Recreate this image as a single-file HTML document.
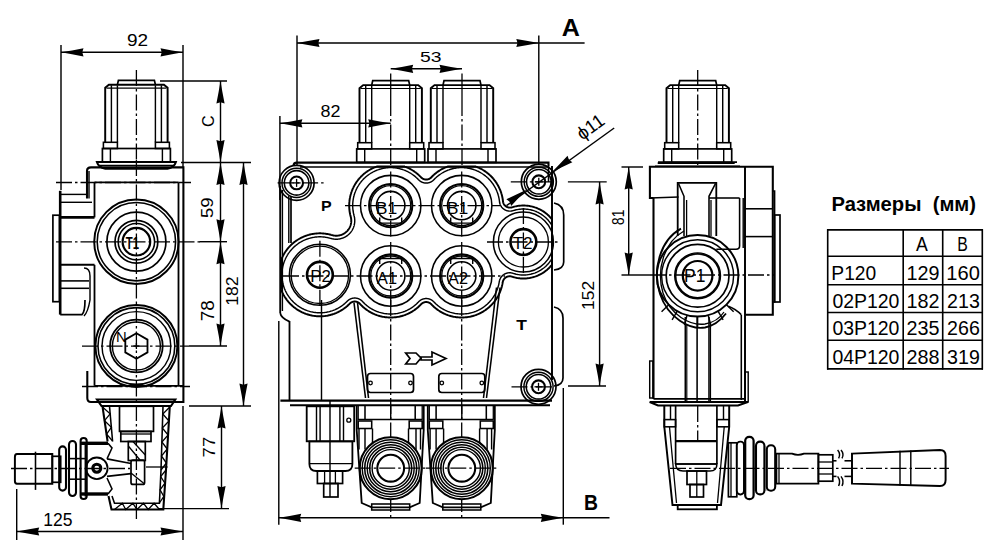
<!DOCTYPE html>
<html><head><meta charset="utf-8"><style>
html,body{margin:0;padding:0;background:#fff;width:1000px;height:557px;overflow:hidden}
svg{display:block}
text{font-family:"Liberation Sans",sans-serif;fill:#000;stroke:none}
</style></head><body>
<svg width="1000" height="557" viewBox="0 0 1000 557" stroke="#000" fill="none" stroke-linecap="butt">
<rect x="0" y="0" width="1000" height="557" fill="#fff" stroke="none"/>
<path d="M117.4,84.7 L118.4,80.3 L154.4,80.3 L155.4,84.7" stroke-width="1.69" fill="none" />
<path d="M105.2,142.3 L105.2,87.8 L108.9,84.7 L163.9,84.7 L167.6,87.8 L167.6,142.3" stroke-width="1.95" fill="none" />
<line x1="111.4" y1="85.3" x2="111.4" y2="142.3" stroke-width="1.43" />
<line x1="117.4" y1="85.3" x2="117.4" y2="142.3" stroke-width="1.43" />
<line x1="155.4" y1="85.3" x2="155.4" y2="142.3" stroke-width="1.43" />
<line x1="161.4" y1="85.3" x2="161.4" y2="142.3" stroke-width="1.43" />
<line x1="106.4" y1="88.1" x2="166.4" y2="88.1" stroke-width="1.17" />
<rect x="103.4" y="142.3" width="14" height="6.2" rx="0" stroke-width="1.56" fill="none" />
<rect x="155.4" y="142.3" width="14" height="6.2" rx="0" stroke-width="1.56" fill="none" />
<rect x="102.4" y="148.5" width="68" height="13.5" rx="0" stroke-width="1.69" fill="none" />
<line x1="110.4" y1="148.5" x2="110.4" y2="162" stroke-width="1.43" />
<line x1="162.4" y1="148.5" x2="162.4" y2="162" stroke-width="1.43" />
<path d="M96.9,162 L175.9,162 Q174.4,167.3 167.4,168.8 L105.4,168.8 Q98.4,167.3 96.9,162 Z" stroke-width="2.08" fill="none" />
<line x1="99.4" y1="165.3" x2="173.4" y2="165.3" stroke-width="1.3" />
<line x1="136.4" y1="70" x2="136.4" y2="160" stroke-width="1.3" stroke-dasharray="16 3 2.5 3"/>
<path d="M87,198.5 L87,171 Q87,167.4 91,167.4 L183.4,167.4 L183.4,402 L91,402 Q87.3,402 87.3,398 L87.3,371" stroke-width="2.08" fill="none" />
<line x1="89" y1="171" x2="89" y2="198.5" stroke-width="1.43" />
<line x1="94.5" y1="182.4" x2="94.5" y2="217.4" stroke-width="1.82" />
<line x1="94.5" y1="264.8" x2="94.5" y2="385.8" stroke-width="1.82" />
<line x1="178.5" y1="182.4" x2="178.5" y2="385.8" stroke-width="1.82" />
<line x1="94.5" y1="182.4" x2="178.5" y2="182.4" stroke-width="1.82" />
<line x1="94.5" y1="385.8" x2="183.4" y2="385.8" stroke-width="1.69" />
<line x1="60.2" y1="190.8" x2="60.2" y2="314.6" stroke-width="2.6" />
<path d="M60.2,314.6 L82,314.6 Q85,312 85,300" stroke-width="1.69" fill="none" />
<rect x="52.9" y="215.2" width="6.5" height="86.5" rx="0" stroke-width="1.69" fill="none" />
<line x1="60.2" y1="194.4" x2="87" y2="194.4" stroke-width="1.43" />
<line x1="60.2" y1="202.3" x2="92" y2="202.3" stroke-width="1.43" />
<line x1="60.2" y1="217.4" x2="94.5" y2="217.4" stroke-width="2.86" />
<line x1="60.2" y1="264.8" x2="94.5" y2="264.8" stroke-width="2.08" />
<line x1="60.2" y1="280.9" x2="89" y2="280.9" stroke-width="1.56" />
<line x1="60.2" y1="288.3" x2="89" y2="288.3" stroke-width="1.56" />
<path d="M84,268 Q90,268 90,276 L90,300 Q88,312 84,316" stroke-width="1.43" fill="none" />
<circle cx="136.4" cy="241.7" r="42.2" stroke-width="1.95" fill="none" />
<circle cx="136.4" cy="241.7" r="39.2" stroke-width="1.56" fill="none" />
<circle cx="136.4" cy="241.7" r="29.5" stroke-width="1.69" fill="none" />
<circle cx="136.4" cy="241.7" r="21.4" stroke-width="1.69" fill="none" />
<circle cx="136.4" cy="241.7" r="18.2" stroke-width="1.56" fill="none" />
<circle cx="136.4" cy="241.7" r="13.8" stroke-width="2.21" fill="none" />
<text x="132.38" y="243.23" font-size="16.98" font-weight="bold" text-anchor="middle" dominant-baseline="central" textLength="13.22" lengthAdjust="spacingAndGlyphs">T1</text>
<circle cx="136.4" cy="346" r="41" stroke-width="1.95" fill="none" />
<circle cx="136.4" cy="346" r="38.4" stroke-width="1.56" fill="none" />
<circle cx="136.4" cy="346" r="34.4" stroke-width="1.43" fill="none" />
<circle cx="136.4" cy="346" r="26.3" stroke-width="1.82" fill="none" />
<circle cx="136.4" cy="346" r="24" stroke-width="1.43" fill="none" />
<path d="M147.49,352.4 L136.4,358.8 L125.31,352.4 L125.31,339.6 L136.4,333.2 L147.49,339.6 Z" stroke-width="1.82" fill="none" />
<line x1="133.4" y1="346" x2="139.4" y2="346" stroke-width="1.3" />
<line x1="136.4" y1="343" x2="136.4" y2="349" stroke-width="1.3" />
<text x="121.36" y="336.33" font-size="15.13" font-weight="normal" text-anchor="middle" dominant-baseline="central" textLength="10.68" lengthAdjust="spacingAndGlyphs">N</text>
<line x1="56" y1="182.5" x2="191" y2="182.5" stroke-width="1.3" stroke-dasharray="16 3 2.5 3"/>
<line x1="56" y1="241.8" x2="200" y2="241.8" stroke-width="1.3" stroke-dasharray="16 3 2.5 3"/>
<line x1="82" y1="346.2" x2="189" y2="346.2" stroke-width="1.3" stroke-dasharray="16 3 2.5 3"/>
<line x1="82" y1="386.5" x2="190" y2="386.5" stroke-width="1.3" stroke-dasharray="16 3 2.5 3"/>
<line x1="136.4" y1="160" x2="136.4" y2="522" stroke-width="1.3" stroke-dasharray="16 3 2.5 3"/>
<line x1="189" y1="346" x2="227" y2="346" stroke-width="1.43" />
<line x1="199.5" y1="241.7" x2="227" y2="241.7" stroke-width="1.43" />
<path d="M97,399.5 L175.3,399.5 L171,406 L101.5,406 Z" stroke-width="2.08" fill="none" />
<path d="M102.5,406.3 L107.6,441.5" stroke-width="2.08" fill="none" />
<path d="M109.5,406.3 L112.6,441.5" stroke-width="1.56" fill="none" />
<path d="M108.5,496 L111.5,509.5 L163.3,509.5 L166,470 L169.8,406.3" stroke-width="2.08" fill="none" />
<path d="M112,496 L114.5,503.3 L159.4,503.3 L161,470 L163,406.3" stroke-width="1.56" fill="none" />
<path d="M102.5,407 L110.12,413.8 L104.54,420.6 L111.36,427.4 L106.58,434.2 L112.6,441" stroke-width="1.3" fill="none" />
<path d="M169.8,407 L162.78,414 L168.96,421 L162.33,428 L168.11,435 L161.89,442 L167.27,449 L161.44,456 L166.42,463 L161,470" stroke-width="1.3" fill="none" />
<path d="M166,470 L160.68,476.6 L164.92,483.2 L160.04,489.8 L163.84,496.4 L159.4,503" stroke-width="1.3" fill="none" />
<path d="M114.5,509.5 L122.3,503.3 L125.72,509.5 L132.9,503.3 L136.95,509.5 L143.5,503.3 L148.18,509.5 L154.1,503.3 L159.4,509.5" stroke-width="1.3" fill="none" />
<rect x="119.5" y="406.3" width="34" height="25.1" rx="0" stroke-width="1.69" fill="none" />
<rect x="120.8" y="431.4" width="30.2" height="10.1" rx="0" stroke-width="1.69" fill="none" />
<line x1="120.8" y1="434" x2="151" y2="434" stroke-width="1.3" />
<rect x="128.3" y="441.5" width="17" height="19" rx="0" stroke-width="1.69" fill="none" />
<line x1="128.3" y1="446" x2="140" y2="460" stroke-width="1.3" />
<line x1="133" y1="441.5" x2="145.3" y2="455" stroke-width="1.3" />
<path d="M133,460 L143,460 Q144.6,460 144.6,462 L144.6,482.4 Q144.6,484.4 142.6,484.4 L133,484.4 Q131,484.4 131,482.4 L131,462 Q131,460 133,460 Z" stroke-width="1.69" fill="none" />
<line x1="131" y1="473" x2="144.6" y2="484" stroke-width="1.3" />
<circle cx="96.8" cy="468.3" r="10.8" stroke-width="1.82" fill="none" />
<circle cx="96.8" cy="468.3" r="4" stroke-width="3.12" fill="none" />
<line x1="85.4" y1="442.7" x2="85.4" y2="496.5" stroke-width="1.69" />
<line x1="80" y1="443.3" x2="108" y2="443.3" stroke-width="3.38" />
<line x1="80" y1="494" x2="108" y2="494" stroke-width="3.38" />
<path d="M108,443.3 L112,448 L107,458.8" stroke-width="1.56" fill="none" />
<path d="M108,494 L112,489 L107,478" stroke-width="1.56" fill="none" />
<path d="M107,458.8 L131,463.5" stroke-width="1.69" fill="none" />
<path d="M107,476.3 L131,473.6" stroke-width="1.69" fill="none" />
<line x1="146" y1="467" x2="167.6" y2="467" stroke-width="1.3" />
<rect x="59.2" y="446.4" width="6.8" height="44.2" rx="3.4" stroke-width="2.08" fill="none" />
<rect x="69" y="441" width="7" height="55" rx="3.5" stroke-width="2.08" fill="none" />
<rect x="80.6" y="438" width="6.1" height="61" rx="3" stroke-width="2.08" fill="none" />
<rect x="69" y="458.6" width="17" height="20.6" rx="0" stroke-width="1.56" fill="none" />
<rect x="52.3" y="456.3" width="8.4" height="26" rx="0" stroke-width="1.69" fill="none" />
<path d="M17,454 L52.3,454 L52.3,483.8 L17,483.8 Q14.9,483.8 14.9,481 L14.9,457 Q14.9,454 17,454 Z" stroke-width="1.95" fill="none" />
<line x1="35.5" y1="451.7" x2="35.5" y2="489.9" stroke-width="1.56" />
<line x1="11" y1="468.5" x2="130" y2="468.5" stroke-width="1.3" stroke-dasharray="16 3 2.5 3"/>
<line x1="61" y1="45" x2="61" y2="190" stroke-width="1.43" />
<line x1="183" y1="45" x2="183" y2="167.5" stroke-width="1.43" />
<line x1="61" y1="52.3" x2="183" y2="52.3" stroke-width="1.43" />
<path d="M61,52.3 L72,50.4 L83.5,48.2 L82.5,51.5 L82.5,53.1 L83.5,56.4 L72,54.2 Z" fill="#000" stroke="none"/>
<path d="M183,52.3 L172,54.2 L160.5,56.4 L161.5,53.1 L161.5,51.5 L160.5,48.2 L172,50.4 Z" fill="#000" stroke="none"/>
<text x="137.5" y="40.14" font-size="16.76" font-weight="normal" text-anchor="middle" dominant-baseline="central" textLength="21.12" lengthAdjust="spacingAndGlyphs">92</text>
<line x1="160" y1="81" x2="227" y2="81" stroke-width="1.43" />
<line x1="181" y1="162.5" x2="251" y2="162.5" stroke-width="1.43" />
<line x1="220.5" y1="81" x2="220.5" y2="162.5" stroke-width="1.43" />
<path d="M220.5,81 L222.4,92 L224.6,103.5 L221.3,102.5 L219.7,102.5 L216.4,103.5 L218.6,92 Z" fill="#000" stroke="none"/>
<path d="M220.5,162.5 L218.6,151.5 L216.4,140 L219.7,141 L221.3,141 L224.6,140 L222.4,151.5 Z" fill="#000" stroke="none"/>
<text x="208.42" y="121.1" font-size="16.76" font-weight="normal" text-anchor="middle" dominant-baseline="central" transform="rotate(-90 208.42 121.1)" textLength="11.73" lengthAdjust="spacingAndGlyphs">C</text>
<line x1="220.5" y1="162.5" x2="220.5" y2="241.7" stroke-width="1.43" />
<path d="M220.5,162.5 L222.4,173.5 L224.6,185 L221.3,184 L219.7,184 L216.4,185 L218.6,173.5 Z" fill="#000" stroke="none"/>
<path d="M220.5,241.7 L218.6,230.7 L216.4,219.2 L219.7,220.2 L221.3,220.2 L224.6,219.2 L222.4,230.7 Z" fill="#000" stroke="none"/>
<text x="207.14" y="207.81" font-size="16.76" font-weight="normal" text-anchor="middle" dominant-baseline="central" transform="rotate(-90 207.14 207.81)" textLength="20.59" lengthAdjust="spacingAndGlyphs">59</text>
<line x1="220.5" y1="241.7" x2="220.5" y2="346" stroke-width="1.43" />
<path d="M220.5,241.7 L222.4,252.7 L224.6,264.2 L221.3,263.2 L219.7,263.2 L216.4,264.2 L218.6,252.7 Z" fill="#000" stroke="none"/>
<path d="M220.5,346 L218.6,335 L216.4,323.5 L219.7,324.5 L221.3,324.5 L224.6,323.5 L222.4,335 Z" fill="#000" stroke="none"/>
<text x="208.07" y="310.69" font-size="17.91" font-weight="normal" text-anchor="middle" dominant-baseline="central" transform="rotate(-90 208.07 310.69)" textLength="20.97" lengthAdjust="spacingAndGlyphs">78</text>
<line x1="243.5" y1="162.5" x2="243.5" y2="406" stroke-width="1.43" />
<path d="M243.5,162.5 L245.4,173.5 L247.6,185 L244.3,184 L242.7,184 L239.4,185 L241.6,173.5 Z" fill="#000" stroke="none"/>
<path d="M243.5,406 L241.6,395 L239.4,383.5 L242.7,384.5 L244.3,384.5 L247.6,383.5 L245.4,395 Z" fill="#000" stroke="none"/>
<text x="232.54" y="291.09" font-size="16.97" font-weight="normal" text-anchor="middle" dominant-baseline="central" transform="rotate(-90 232.54 291.09)" textLength="29.31" lengthAdjust="spacingAndGlyphs">182</text>
<line x1="189" y1="406" x2="251" y2="406" stroke-width="1.43" />
<line x1="159" y1="508.6" x2="229" y2="508.6" stroke-width="1.43" />
<line x1="221.5" y1="406" x2="221.5" y2="508.6" stroke-width="1.43" />
<path d="M221.5,406 L223.4,417 L225.6,428.5 L222.3,427.5 L220.7,427.5 L217.4,428.5 L219.6,417 Z" fill="#000" stroke="none"/>
<path d="M221.5,508.6 L219.6,497.6 L217.4,486.1 L220.7,487.1 L222.3,487.1 L225.6,486.1 L223.4,497.6 Z" fill="#000" stroke="none"/>
<text x="209.09" y="447.07" font-size="17.35" font-weight="normal" text-anchor="middle" dominant-baseline="central" transform="rotate(-90 209.09 447.07)" textLength="20.59" lengthAdjust="spacingAndGlyphs">77</text>
<line x1="16.7" y1="489" x2="16.7" y2="540" stroke-width="1.43" />
<line x1="183" y1="406" x2="183" y2="540" stroke-width="1.43" />
<line x1="16.7" y1="531.5" x2="183" y2="531.5" stroke-width="1.43" />
<path d="M16.7,531.5 L27.7,529.6 L39.2,527.4 L38.2,530.7 L38.2,532.3 L39.2,535.6 L27.7,533.4 Z" fill="#000" stroke="none"/>
<path d="M183,531.5 L172,533.4 L160.5,535.6 L161.5,532.3 L161.5,530.7 L160.5,527.4 L172,529.6 Z" fill="#000" stroke="none"/>
<text x="57.79" y="519.83" font-size="17.55" font-weight="normal" text-anchor="middle" dominant-baseline="central" textLength="29.25" lengthAdjust="spacingAndGlyphs">125</text>
<path d="M371.7,85.1 L372.7,80.7 L408.7,80.7 L409.7,85.1" stroke-width="1.69" fill="none" />
<path d="M359.5,142.7 L359.5,88.2 L363.2,85.1 L418.2,85.1 L421.9,88.2 L421.9,142.7" stroke-width="1.95" fill="none" />
<line x1="365.7" y1="85.7" x2="365.7" y2="142.7" stroke-width="1.43" />
<line x1="371.7" y1="85.7" x2="371.7" y2="142.7" stroke-width="1.43" />
<line x1="409.7" y1="85.7" x2="409.7" y2="142.7" stroke-width="1.43" />
<line x1="415.7" y1="85.7" x2="415.7" y2="142.7" stroke-width="1.43" />
<line x1="360.7" y1="88.5" x2="420.7" y2="88.5" stroke-width="1.17" />
<rect x="357.7" y="142.7" width="14" height="6.2" rx="0" stroke-width="1.56" fill="none" />
<rect x="409.7" y="142.7" width="14" height="6.2" rx="0" stroke-width="1.56" fill="none" />
<rect x="356.7" y="148.9" width="68" height="13.5" rx="0" stroke-width="1.69" fill="none" />
<line x1="364.7" y1="148.9" x2="364.7" y2="162.4" stroke-width="1.43" />
<line x1="416.7" y1="148.9" x2="416.7" y2="162.4" stroke-width="1.43" />
<path d="M443,85.1 L444,80.7 L480,80.7 L481,85.1" stroke-width="1.69" fill="none" />
<path d="M430.8,142.7 L430.8,88.2 L434.5,85.1 L489.5,85.1 L493.2,88.2 L493.2,142.7" stroke-width="1.95" fill="none" />
<line x1="437" y1="85.7" x2="437" y2="142.7" stroke-width="1.43" />
<line x1="443" y1="85.7" x2="443" y2="142.7" stroke-width="1.43" />
<line x1="481" y1="85.7" x2="481" y2="142.7" stroke-width="1.43" />
<line x1="487" y1="85.7" x2="487" y2="142.7" stroke-width="1.43" />
<line x1="432" y1="88.5" x2="492" y2="88.5" stroke-width="1.17" />
<rect x="429" y="142.7" width="14" height="6.2" rx="0" stroke-width="1.56" fill="none" />
<rect x="481" y="142.7" width="14" height="6.2" rx="0" stroke-width="1.56" fill="none" />
<rect x="428" y="148.9" width="68" height="13.5" rx="0" stroke-width="1.69" fill="none" />
<line x1="436" y1="148.9" x2="436" y2="162.4" stroke-width="1.43" />
<line x1="488" y1="148.9" x2="488" y2="162.4" stroke-width="1.43" />
<line x1="390.7" y1="73.5" x2="390.7" y2="100" stroke-width="1.3" />
<line x1="390.7" y1="100" x2="390.7" y2="165" stroke-width="1.3" stroke-dasharray="16 3 2.5 3"/>
<line x1="462" y1="73.5" x2="462" y2="100" stroke-width="1.3" />
<line x1="462" y1="100" x2="462" y2="165" stroke-width="1.3" stroke-dasharray="16 3 2.5 3"/>
<path d="M293.5,166 Q293.5,162.6 297,162.6 L548.5,162.6 L548.5,166" stroke-width="2.08" fill="none" />
<line x1="300" y1="167" x2="548.5" y2="167" stroke-width="1.56" />
<line x1="280.2" y1="186" x2="280.2" y2="313" stroke-width="1.82" />
<line x1="282.4" y1="190" x2="282.4" y2="311" stroke-width="1.43" />
<path d="M280.2,313 Q281,318 289.5,321.6" stroke-width="1.69" fill="none" />
<line x1="288.8" y1="196" x2="288.8" y2="243" stroke-width="1.43" />
<line x1="291" y1="196" x2="291" y2="243" stroke-width="1.69" />
<line x1="289.5" y1="321" x2="289.5" y2="400.6" stroke-width="1.82" />
<line x1="552" y1="166" x2="552" y2="380" stroke-width="1.95" />
<line x1="548.5" y1="166" x2="548.5" y2="182" stroke-width="1.56" />
<path d="M554,203 Q563.7,205 563.7,215 L563.7,262 Q563.7,269 554,270" stroke-width="1.69" fill="none" />
<path d="M554,307 Q563,309 563,318 L563,378 Q563,385 554,386" stroke-width="1.69" fill="none" />
<line x1="280.4" y1="400.6" x2="552" y2="400.6" stroke-width="2.08" />
<line x1="290" y1="405.3" x2="550" y2="405.3" stroke-width="2.08" />
<circle cx="296.6" cy="182.9" r="17.5" stroke-width="1.69" fill="none" />
<circle cx="296.6" cy="182.9" r="14.6" stroke-width="1.43" fill="none" />
<circle cx="296.6" cy="182.9" r="12.25" stroke-width="1.56" fill="none" />
<circle cx="296.6" cy="182.9" r="6.4" stroke-width="2.08" fill="none" />
<line x1="292.6" y1="182.9" x2="300.6" y2="182.9" stroke-width="1.3" />
<line x1="296.6" y1="178.9" x2="296.6" y2="186.9" stroke-width="1.3" />
<line x1="277.6" y1="182.9" x2="326.6" y2="182.9" stroke-width="1.3" stroke-dasharray="16 3 2.5 3"/>
<circle cx="538.8" cy="181.8" r="17.5" stroke-width="1.69" fill="none" />
<circle cx="538.8" cy="181.8" r="14.6" stroke-width="1.43" fill="none" />
<circle cx="538.8" cy="181.8" r="12.25" stroke-width="1.56" fill="none" />
<circle cx="538.8" cy="181.8" r="6.4" stroke-width="2.08" fill="none" />
<line x1="534.8" y1="181.8" x2="542.8" y2="181.8" stroke-width="1.3" />
<line x1="538.8" y1="177.8" x2="538.8" y2="185.8" stroke-width="1.3" />
<line x1="510.8" y1="181.8" x2="553.8" y2="181.8" stroke-width="1.3" stroke-dasharray="16 3 2.5 3"/>
<circle cx="538.5" cy="386.8" r="17.5" stroke-width="1.69" fill="none" />
<circle cx="538.5" cy="386.8" r="14.6" stroke-width="1.43" fill="none" />
<circle cx="538.5" cy="386.8" r="12.25" stroke-width="1.56" fill="none" />
<circle cx="538.5" cy="386.8" r="6.4" stroke-width="2.08" fill="none" />
<line x1="534.5" y1="386.8" x2="542.5" y2="386.8" stroke-width="1.3" />
<line x1="538.5" y1="382.8" x2="538.5" y2="390.8" stroke-width="1.3" />
<line x1="511.5" y1="386.8" x2="553.5" y2="386.8" stroke-width="1.3" stroke-dasharray="16 3 2.5 3"/>
<path d="M350.9,217.44 L350.97,217.8 L351.04,218.16 L351.1,218.52 L351.15,218.89 L351.19,219.25 L351.22,219.62 L351.24,219.99 L351.26,220.35 L351.26,220.72 L351.26,221.09 L351.24,221.46 L351.22,221.83 L351.19,222.19 L351.15,222.56 L351.1,222.92 L351.04,223.29 L350.97,223.65 L350.9,224.01 L350.81,224.37 L350.72,224.72 L350.62,225.08 L350.51,225.43 L350.39,225.78 L350.26,226.12 L350.12,226.46 L349.98,226.8 L349.82,227.14 L349.66,227.47 L349.49,227.79 L349.31,228.12 L349.13,228.43 L348.94,228.75 L348.73,229.06 L348.53,229.36 L348.31,229.66 L348.09,229.95 L347.86,230.24 L347.62,230.52 L347.38,230.8 L347.13,231.07 L346.87,231.33 L346.61,231.59 L346.34,231.84 L346.06,232.08 L345.78,232.32 L345.49,232.55 L345.2,232.77 L344.9,232.99 L344.6,233.19 L344.29,233.4 L343.97,233.59 L343.66,233.77 L343.33,233.95 L343.01,234.12 L342.68,234.28 L342.34,234.44 L342,234.58 L341.66,234.72 L341.32,234.85 L340.97,234.97 L340.62,235.08 L340.26,235.18 L339.91,235.27 L339.55,235.36 L339.19,235.43 L338.83,235.5 L338.46,235.56 L338.1,235.61 L337.73,235.65 L337.37,235.68 L337,235.7 L336.63,235.72 L336.26,235.72 L335.89,235.72 L335.53,235.7 L335.16,235.68 L334.79,235.65 L334.43,235.61 L334.06,235.56 L333.7,235.5 L333.34,235.43 L332.98,235.36 L332.62,235.27 L332.26,235.18 L331.96,235.09 L331.91,235.08 L331.86,235.06 L331.06,234.83 L331.01,234.82 L330.93,234.79 L330.88,234.78 L330.09,234.57 L330.07,234.57 L330.03,234.55 L329.94,234.53 L329.89,234.52 L329.49,234.43 L329.08,234.33 L329.03,234.32 L328.95,234.3 L328.9,234.29 L328.33,234.17 L328.09,234.12 L328.04,234.11 L327.95,234.09 L327.91,234.08 L327.6,234.02 L327.09,233.93 L327.04,233.92 L326.95,233.9 L326.9,233.9 L326.08,233.76 L326.03,233.76 L325.95,233.74 L325.9,233.74 L325.52,233.69 L325.07,233.62 L325.02,233.62 L324.94,233.61 L324.89,233.6 L324.06,233.51 L324.01,233.5 L323.92,233.5 L323.88,233.49 L323.53,233.46 L323.04,233.42 L323,233.42 L322.91,233.41 L322.86,233.41 L322.03,233.36 L321.98,233.35 L321.89,233.35 L321.84,233.35 L321.01,233.32 L320.96,233.31 L320.88,233.31 L320.83,233.31 L319.99,233.3 L319.94,233.3 L319.86,233.3 L319.81,233.3 L318.97,233.31 L318.92,233.31 L318.84,233.31 L318.79,233.32 L317.96,233.35 L317.91,233.35 L317.82,233.35 L317.77,233.36 L316.94,233.41 L316.89,233.41 L316.8,233.42 L316.76,233.42 L316.27,233.46 L315.92,233.49 L315.88,233.5 L315.79,233.5 L315.74,233.51 L314.91,233.6 L314.86,233.61 L314.78,233.62 L314.73,233.62 L314.28,233.69 L313.9,233.74 L313.85,233.74 L313.77,233.76 L313.72,233.76 L312.9,233.9 L312.85,233.9 L312.76,233.92 L312.71,233.93 L312.2,234.02 L311.89,234.08 L311.85,234.09 L311.76,234.11 L311.71,234.12 L311.47,234.17 L310.9,234.29 L310.85,234.3 L310.77,234.32 L310.72,234.33 L310.31,234.43 L309.91,234.52 L309.86,234.53 L309.77,234.55 L309.73,234.57 L309.71,234.57 L308.92,234.78 L308.87,234.79 L308.79,234.82 L308.74,234.83 L307.94,235.06 L307.89,235.08 L307.81,235.1 L307.77,235.11 L307.28,235.27 L306.97,235.37 L306.92,235.38 L306.84,235.41 L306.8,235.42 L306.01,235.7 L305.96,235.71 L305.88,235.74 L305.83,235.76 L305.05,236.05 L305,236.07 L304.92,236.1 L304.88,236.11 L304.49,236.27 L304.1,236.42 L304.06,236.44 L303.98,236.48 L303.93,236.5 L303.17,236.82 L303.12,236.84 L303.04,236.88 L303,236.9 L302.24,237.25 L302.2,237.27 L302.12,237.3 L302.07,237.32 L301.59,237.56 L301.32,237.69 L301.28,237.71 L301.2,237.75 L301.16,237.77 L300.42,238.16 L300.38,238.18 L300.3,238.22 L300.26,238.24 L300.11,238.33 L299.53,238.65 L299.48,238.67 L299.41,238.71 L299.37,238.74 L298.64,239.16 L298.6,239.18 L298.53,239.23 L298.49,239.25 L298.47,239.26 L297.78,239.69 L297.73,239.72 L297.66,239.76 L297.62,239.79 L296.92,240.24 L296.88,240.27 L296.81,240.32 L296.77,240.35 L296.35,240.63 L296.08,240.82 L296.04,240.85 L295.97,240.9 L295.93,240.92 L295.57,241.19 L295.25,241.41 L295.21,241.44 L295.14,241.49 L295.11,241.52 L294.44,242.03 L294.4,242.06 L294.33,242.11 L294.3,242.14 L293.64,242.66 L293.61,242.69 L293.54,242.75 L293.5,242.78 L293.03,243.17 L292.86,243.32 L292.83,243.35 L292.76,243.4 L292.72,243.44 L292.64,243.51 L292.1,243.99 L292.06,244.02 L292,244.08 L291.96,244.11 L291.65,244.4 L291.35,244.68 L291.32,244.71 L291.25,244.77 L291.22,244.81 L290.62,245.39 L290.59,245.43 L290.53,245.49 L290.49,245.52 L289.91,246.12 L289.87,246.15 L289.81,246.22 L289.78,246.25 L289.46,246.6 L289.21,246.86 L289.18,246.9 L289.12,246.96 L289.09,247 L288.54,247.62 L288.5,247.66 L288.45,247.73 L288.42,247.76 L287.88,248.4 L287.85,248.44 L287.79,248.51 L287.76,248.54 L287.24,249.2 L287.21,249.23 L287.16,249.3 L287.13,249.34 L286.62,250.01 L286.59,250.04 L286.54,250.11 L286.51,250.15 L286.4,250.31 L286.02,250.83 L286,250.87 L285.95,250.94 L285.92,250.98 L285.45,251.67 L285.42,251.71 L285.37,251.78 L285.34,251.82 L284.89,252.52 L284.86,252.56 L284.82,252.63 L284.79,252.68 L284.42,253.27 L284.35,253.39 L284.33,253.43 L284.28,253.5 L284.26,253.54 L283.84,254.27 L283.81,254.31 L283.77,254.38 L283.75,254.43 L283.34,255.16 L283.32,255.2 L283.28,255.28 L283.26,255.32 L282.87,256.06 L282.85,256.1 L282.81,256.18 L282.79,256.22 L282.53,256.76 L282.42,256.97 L282.4,257.02 L282.37,257.1 L282.35,257.14 L282.09,257.69 L282,257.9 L281.98,257.94 L281.94,258.02 L281.92,258.07 L281.6,258.83 L281.58,258.88 L281.54,258.96 L281.52,259 L281.3,259.57 L281.21,259.78 L281.2,259.82 L281.17,259.9 L281.15,259.95 L281,260.34 L281,260.35 L281,289.25 L281.15,289.65 L281.17,289.7 L281.2,289.78 L281.21,289.82 L281.37,290.21 L281.52,290.6 L281.54,290.64 L281.58,290.72 L281.6,290.77 L281.64,290.88 L281.92,291.53 L281.94,291.58 L281.98,291.66 L282,291.7 L282.35,292.46 L282.37,292.5 L282.4,292.58 L282.42,292.63 L282.79,293.38 L282.81,293.42 L282.85,293.5 L282.87,293.54 L283.19,294.15 L283.26,294.28 L283.28,294.32 L283.32,294.4 L283.34,294.44 L283.45,294.64 L283.75,295.17 L283.77,295.22 L283.81,295.29 L283.84,295.33 L284.26,296.06 L284.28,296.1 L284.33,296.17 L284.35,296.21 L284.79,296.92 L284.82,296.97 L284.86,297.04 L284.89,297.08 L285.34,297.78 L285.37,297.82 L285.42,297.89 L285.45,297.93 L285.92,298.62 L285.95,298.66 L286,298.73 L286.02,298.77 L286.14,298.93 L286.51,299.45 L286.54,299.49 L286.59,299.56 L286.62,299.59 L287.13,300.26 L287.16,300.3 L287.21,300.37 L287.24,300.4 L287.76,301.06 L287.79,301.09 L287.85,301.16 L287.88,301.2 L288.42,301.84 L288.45,301.87 L288.5,301.94 L288.54,301.98 L289.09,302.6 L289.12,302.64 L289.18,302.7 L289.21,302.74 L289.78,303.35 L289.81,303.38 L289.87,303.45 L289.91,303.48 L290.49,304.08 L290.53,304.11 L290.59,304.17 L290.62,304.21 L291.22,304.79 L291.25,304.83 L291.32,304.89 L291.35,304.92 L291.47,305.03 L291.96,305.49 L292,305.52 L292.06,305.58 L292.1,305.61 L292.22,305.72 L292.72,306.16 L292.76,306.2 L292.83,306.25 L292.86,306.28 L293.5,306.82 L293.54,306.85 L293.61,306.91 L293.64,306.94 L294.3,307.46 L294.33,307.49 L294.4,307.54 L294.44,307.57 L295.11,308.08 L295.14,308.11 L295.21,308.16 L295.25,308.19 L295.71,308.52 L295.93,308.68 L295.97,308.7 L296.04,308.75 L296.08,308.78 L296.77,309.25 L296.81,309.28 L296.88,309.33 L296.92,309.36 L297.62,309.81 L297.66,309.84 L297.73,309.88 L297.78,309.91 L297.81,309.93 L298.49,310.35 L298.53,310.37 L298.6,310.42 L298.64,310.44 L299.37,310.86 L299.41,310.89 L299.48,310.93 L299.53,310.95 L299.97,311.2 L300.26,311.36 L300.3,311.38 L300.38,311.42 L300.42,311.44 L301.16,311.83 L301.2,311.85 L301.28,311.89 L301.32,311.91 L302.07,312.28 L302.12,312.3 L302.2,312.33 L302.24,312.35 L303,312.7 L303.04,312.72 L303.12,312.76 L303.17,312.78 L303.6,312.96 L303.93,313.1 L303.98,313.12 L304.06,313.16 L304.1,313.18 L304.88,313.49 L304.92,313.5 L305,313.53 L305.05,313.55 L305.53,313.73 L305.83,313.84 L305.88,313.86 L305.96,313.89 L306.01,313.9 L306.62,314.11 L306.8,314.18 L306.84,314.19 L306.92,314.22 L306.97,314.23 L307.03,314.25 L307.77,314.49 L307.81,314.5 L307.89,314.52 L307.94,314.54 L308.74,314.77 L308.79,314.78 L308.87,314.81 L308.92,314.82 L309.47,314.97 L309.73,315.03 L309.77,315.05 L309.86,315.07 L309.91,315.08 L310.72,315.27 L310.77,315.28 L310.85,315.3 L310.9,315.31 L311.49,315.44 L311.71,315.48 L311.76,315.49 L311.85,315.51 L311.89,315.52 L312.34,315.6 L312.71,315.67 L312.76,315.68 L312.85,315.7 L312.9,315.7 L313.72,315.84 L313.77,315.84 L313.85,315.86 L313.9,315.86 L314.14,315.9 L314.73,315.98 L314.78,315.98 L314.86,315.99 L314.91,316 L315.41,316.05 L315.74,316.09 L315.79,316.1 L315.88,316.1 L315.92,316.11 L316.76,316.18 L316.8,316.18 L316.89,316.19 L316.94,316.19 L317.77,316.24 L317.82,316.25 L317.91,316.25 L317.96,316.25 L318.79,316.28 L318.84,316.29 L318.92,316.29 L318.97,316.29 L319.81,316.3 L319.86,316.3 L319.94,316.3 L319.99,316.3 L320.83,316.29 L320.88,316.29 L320.96,316.29 L321.01,316.28 L321.84,316.25 L321.89,316.25 L321.98,316.25 L322.03,316.24 L322.86,316.19 L322.91,316.19 L323,316.18 L323.04,316.18 L323.88,316.11 L323.92,316.1 L324.01,316.1 L324.06,316.09 L324.89,316 L324.94,315.99 L325.02,315.98 L325.07,315.98 L325.9,315.86 L325.95,315.86 L326.03,315.84 L326.08,315.84 L326.9,315.7 L326.95,315.7 L327.04,315.68 L327.09,315.67 L327.09,315.67 L327.91,315.52 L327.95,315.51 L328.04,315.49 L328.09,315.48 L328.9,315.31 L328.95,315.3 L329.03,315.28 L329.08,315.27 L329.89,315.08 L329.94,315.07 L330.03,315.05 L330.07,315.03 L330.3,314.97 L330.88,314.82 L330.93,314.81 L331.01,314.78 L331.06,314.77 L331.39,314.67 L331.86,314.54 L331.91,314.52 L331.99,314.5 L332.03,314.49 L332.77,314.25 L332.83,314.23 L332.88,314.22 L332.96,314.19 L333,314.18 L333.18,314.11 L333.79,313.9 L333.84,313.89 L333.92,313.86 L333.97,313.84 L334.27,313.73 L334.75,313.55 L334.8,313.53 L334.88,313.5 L334.92,313.49 L335.7,313.18 L335.74,313.16 L335.82,313.12 L335.87,313.1 L336.63,312.78 L336.68,312.76 L336.76,312.72 L336.8,312.7 L337.41,312.42 L337.56,312.35 L337.6,312.33 L337.68,312.3 L337.73,312.28 L338.48,311.91 L338.52,311.89 L338.6,311.85 L338.64,311.83 L339.34,311.46 L339.38,311.44 L339.42,311.42 L339.5,311.38 L339.54,311.36 L339.74,311.25 L340.27,310.95 L340.32,310.93 L340.39,310.89 L340.43,310.86 L341.16,310.44 L341.2,310.42 L341.27,310.37 L341.31,310.35 L342.02,309.91 L342.07,309.88 L342.14,309.84 L342.18,309.81 L342.26,309.76 L342.88,309.36 L342.92,309.33 L342.99,309.28 L343.03,309.25 L343.72,308.78 L343.76,308.75 L343.83,308.7 L343.87,308.68 L344.35,308.33 L344.55,308.19 L344.59,308.16 L344.66,308.11 L344.69,308.08 L344.83,307.97 L345.36,307.57 L345.4,307.54 L345.47,307.49 L345.5,307.46 L346.16,306.94 L346.19,306.91 L346.26,306.85 L346.3,306.82 L346.94,306.28 L346.97,306.25 L347.04,306.2 L347.08,306.16 L347.64,305.66 L347.7,305.61 L347.74,305.58 L347.8,305.52 L347.84,305.49 L348.33,305.03 L348.45,304.92 L348.48,304.89 L348.55,304.83 L348.58,304.79 L348.76,304.62 L349.18,304.21 L349.21,304.17 L349.27,304.11 L349.31,304.08 L349.73,303.65 L349.85,303.53 L349.97,303.41 L350.1,303.3 L350.23,303.19 L350.36,303.08 L350.49,302.97 L350.63,302.87 L350.77,302.77 L350.91,302.68 L351.05,302.59 L351.2,302.5 L351.35,302.41 L351.5,302.33 L351.65,302.26 L351.8,302.18 L351.96,302.11 L352.12,302.05 L352.28,301.99 L352.44,301.93 L352.6,301.87 L352.76,301.82 L352.93,301.78 L353.09,301.74 L353.26,301.7 L353.42,301.66 L353.59,301.63 L353.76,301.61 L353.93,301.59 L354.1,301.57 L354.27,301.56 L354.44,301.55 L354.61,301.54 L354.78,301.54 L354.95,301.54 L355.12,301.55 L355.29,301.56 L355.46,301.58 L355.63,301.6 L355.8,301.62 L355.97,301.65 L356.14,301.68 L356.3,301.72 L356.47,301.76 L356.63,301.8 L356.8,301.85 L356.96,301.9 L357.12,301.96 L357.28,302.02 L357.44,302.08 L357.59,302.15 L357.75,302.22 L357.9,302.3 L358.05,302.37 L358.2,302.46 L358.35,302.54 L358.49,302.63 L358.64,302.73 L358.78,302.82 L358.91,302.92 L359.05,303.03 L359.18,303.13 L359.31,303.24 L359.44,303.36 L359.57,303.47 L359.69,303.59 L359.81,303.71 L359.92,303.84 L359.98,303.9 L360.61,304.58 L360.67,304.65 L361.33,305.31 L361.39,305.37 L362.05,306.03 L362.12,306.09 L362.8,306.72 L362.86,306.78 L363.56,307.4 L363.63,307.45 L364.34,308.05 L364.41,308.11 L365.13,308.69 L365.2,308.74 L365.94,309.31 L366.01,309.36 L366.77,309.9 L366.84,309.95 L367.61,310.48 L367.68,310.53 L368.46,311.04 L368.53,311.08 L369.33,311.57 L369.4,311.62 L370.21,312.09 L370.28,312.13 L371.1,312.58 L371.18,312.62 L372,313.05 L372.08,313.09 L372.92,313.5 L373,313.53 L373.84,313.92 L373.92,313.96 L374.78,314.32 L374.86,314.36 L375.72,314.7 L375.8,314.73 L376.68,315.06 L376.76,315.09 L377.64,315.39 L377.72,315.42 L378.61,315.7 L378.69,315.72 L379.59,315.98 L379.67,316.01 L380.57,316.25 L380.66,316.27 L381.57,316.48 L381.65,316.5 L382.56,316.69 L382.65,316.71 L383.56,316.88 L383.65,316.9 L384.57,317.04 L384.65,317.06 L385.58,317.18 L385.66,317.19 L386.59,317.3 L386.68,317.3 L387.6,317.38 L387.69,317.39 L388.62,317.45 L388.71,317.45 L389.64,317.49 L389.72,317.49 L390.66,317.5 L390.74,317.5 L391.68,317.49 L391.76,317.49 L392.69,317.45 L392.78,317.45 L393.71,317.39 L393.8,317.38 L394.72,317.3 L394.81,317.3 L395.74,317.19 L395.82,317.18 L396.75,317.06 L396.83,317.04 L397.75,316.9 L397.84,316.88 L398.75,316.71 L398.84,316.69 L399.75,316.5 L399.83,316.48 L400.74,316.27 L400.83,316.25 L401.73,316.01 L401.81,315.98 L402.71,315.72 L402.79,315.7 L403.68,315.42 L403.76,315.39 L404.64,315.09 L404.72,315.06 L405.6,314.73 L405.68,314.7 L406.54,314.36 L406.62,314.32 L407.48,313.96 L407.56,313.92 L408.4,313.53 L408.48,313.5 L409.32,313.09 L409.4,313.05 L410.22,312.62 L410.3,312.58 L411.12,312.13 L411.19,312.09 L412,311.62 L412.07,311.57 L412.87,311.08 L412.94,311.04 L413.72,310.53 L413.79,310.48 L414.56,309.95 L414.63,309.9 L415.39,309.36 L415.46,309.31 L416.2,308.74 L416.27,308.69 L416.99,308.11 L417.06,308.05 L417.77,307.45 L417.84,307.4 L418.54,306.78 L418.6,306.72 L419.28,306.09 L419.35,306.03 L420.01,305.37 L420.07,305.31 L420.73,304.65 L420.79,304.58 L421.07,304.28 L421.19,304.15 L421.31,304.03 L421.44,303.91 L421.56,303.8 L421.69,303.68 L421.83,303.58 L421.96,303.47 L422.1,303.37 L422.24,303.27 L422.38,303.17 L422.53,303.08 L422.68,302.99 L422.82,302.91 L422.98,302.83 L423.13,302.75 L423.28,302.68 L423.44,302.61 L423.6,302.54 L423.76,302.48 L423.92,302.42 L424.09,302.37 L424.25,302.32 L424.42,302.27 L424.58,302.23 L424.75,302.19 L424.92,302.16 L425.09,302.13 L425.26,302.1 L425.43,302.08 L425.6,302.07 L425.77,302.05 L425.94,302.05 L426.11,302.04 L426.29,302.04 L426.46,302.05 L426.63,302.05 L426.8,302.07 L426.97,302.08 L427.14,302.1 L427.31,302.13 L427.48,302.16 L427.65,302.19 L427.82,302.23 L427.98,302.27 L428.15,302.32 L428.31,302.37 L428.48,302.42 L428.64,302.48 L428.8,302.54 L428.96,302.61 L429.12,302.68 L429.27,302.75 L429.42,302.83 L429.58,302.91 L429.72,302.99 L429.87,303.08 L430.02,303.17 L430.16,303.27 L430.3,303.37 L430.44,303.47 L430.57,303.58 L430.71,303.68 L430.84,303.8 L430.96,303.91 L431.09,304.03 L431.21,304.15 L431.33,304.28 L431.61,304.58 L431.67,304.65 L432.33,305.31 L432.39,305.37 L433.05,306.03 L433.12,306.09 L433.8,306.72 L433.86,306.78 L434.56,307.4 L434.63,307.45 L435.34,308.05 L435.41,308.11 L436.13,308.69 L436.2,308.74 L436.94,309.31 L437.01,309.36 L437.77,309.9 L437.84,309.95 L438.61,310.48 L438.68,310.53 L439.46,311.04 L439.53,311.08 L440.33,311.57 L440.4,311.62 L441.21,312.09 L441.28,312.13 L442.1,312.58 L442.18,312.62 L443,313.05 L443.08,313.09 L443.92,313.5 L444,313.53 L444.84,313.92 L444.92,313.96 L445.78,314.32 L445.86,314.36 L446.72,314.7 L446.8,314.73 L447.68,315.06 L447.76,315.09 L448.64,315.39 L448.72,315.42 L449.61,315.7 L449.69,315.72 L450.59,315.98 L450.67,316.01 L451.57,316.25 L451.66,316.27 L452.57,316.48 L452.65,316.5 L453.56,316.69 L453.65,316.71 L454.56,316.88 L454.65,316.9 L455.57,317.04 L455.65,317.06 L456.58,317.18 L456.66,317.19 L457.59,317.3 L457.68,317.3 L458.6,317.38 L458.69,317.39 L459.62,317.45 L459.71,317.45 L460.64,317.49 L460.72,317.49 L461.66,317.5 L461.74,317.5 L462.68,317.49 L462.76,317.49 L463.69,317.45 L463.78,317.45 L464.71,317.39 L464.8,317.38 L465.72,317.3 L465.81,317.3 L466.74,317.19 L466.82,317.18 L467.75,317.06 L467.83,317.04 L468.75,316.9 L468.84,316.88 L469.75,316.71 L469.84,316.69 L470.75,316.5 L470.83,316.48 L471.74,316.27 L471.83,316.25 L472.73,316.01 L472.81,315.98 L473.71,315.72 L473.79,315.7 L474.68,315.42 L474.76,315.39 L475.64,315.09 L475.72,315.06 L476.6,314.73 L476.68,314.7 L477.54,314.36 L477.62,314.32 L478.48,313.96 L478.56,313.92 L479.4,313.53 L479.48,313.5 L480.32,313.09 L480.4,313.05 L481.22,312.62 L481.3,312.58 L482.12,312.13 L482.19,312.09 L483,311.62 L483.07,311.57 L483.87,311.08 L483.94,311.04 L484.72,310.53 L484.79,310.48 L485.56,309.95 L485.63,309.9 L486.39,309.36 L486.46,309.31 L487.2,308.74 L487.27,308.69 L487.99,308.11 L488.06,308.05 L488.77,307.45 L488.84,307.4 L489.54,306.78 L489.6,306.72 L490.28,306.09 L490.35,306.03 L491.01,305.37 L491.07,305.31 L491.73,304.65 L491.79,304.58 L492.42,303.9 L492.48,303.84 L493.1,303.14 L493.15,303.07 L493.75,302.36 L493.81,302.29 L494.39,301.57 L494.44,301.5 L495.01,300.76 L495.06,300.69 L495.6,299.93 L495.65,299.86 L496.18,299.09 L496.23,299.02 L496.74,298.24 L496.78,298.17 L497.27,297.37 L497.32,297.3 L497.79,296.49 L497.83,296.42 L498.28,295.6 L498.32,295.52 L498.75,294.7 L498.79,294.62 L499.2,293.78 L499.23,293.7 L499.62,292.86 L499.66,292.78 L500.02,291.92 L500.06,291.84 L500.4,290.98 L500.43,290.9 L500.76,290.02 L500.79,289.94 L501.09,289.06 L501.12,288.98 L501.4,288.09 L501.42,288.01 L501.68,287.11 L501.71,287.03 L501.95,286.13 L501.97,286.04 L502.18,285.13 L502.2,285.05 L502.39,284.14 L502.41,284.05 L502.58,283.14 L502.6,283.05 L502.74,282.16 L502.77,281.99 L502.8,281.82 L502.84,281.66 L502.88,281.49 L502.93,281.32 L502.98,281.16 L503.03,281 L503.09,280.84 L503.15,280.68 L503.21,280.52 L503.28,280.36 L503.35,280.21 L503.43,280.06 L503.51,279.91 L503.6,279.76 L503.68,279.61 L503.77,279.47 L503.87,279.32 L503.97,279.19 L504.07,279.05 L504.17,278.91 L504.28,278.78 L504.39,278.65 L504.51,278.52 L504.62,278.4 L504.74,278.28 L504.87,278.16 L504.99,278.05 L505.12,277.93 L505.25,277.82 L505.39,277.72 L505.52,277.62 L505.66,277.52 L505.8,277.42 L505.95,277.33 L506.09,277.24 L506.24,277.16 L506.39,277.07 L506.54,277 L506.7,276.92 L506.85,276.85 L507.01,276.79 L507.17,276.72 L507.33,276.67 L507.49,276.61 L507.65,276.56 L507.82,276.51 L507.98,276.47 L508.15,276.43 L508.32,276.4 L508.49,276.37 L508.65,276.34 L508.82,276.32 L508.99,276.3 L509.16,276.29 L509.33,276.28 L509.5,276.27 L509.68,276.27 L509.85,276.27 L510.02,276.28 L510.19,276.29 L510.36,276.31 L510.53,276.32 L510.7,276.35 L510.86,276.38 L511.03,276.41 L511.2,276.44 L511.37,276.48 L511.53,276.53 L511.69,276.57 L511.86,276.63 L512,276.67 L512.76,276.92 L512.85,276.94 L513.62,277.17 L513.71,277.19 L514.49,277.4 L514.57,277.42 L515.36,277.6 L515.44,277.62 L516.24,277.79 L516.32,277.81 L517.12,277.95 L517.2,277.97 L518,278.1 L518.09,278.11 L518.89,278.22 L518.97,278.23 L519.78,278.32 L519.87,278.33 L520.67,278.4 L520.76,278.4 L521.57,278.45 L521.65,278.46 L522.46,278.49 L522.55,278.49 L523.36,278.5 L523.44,278.5 L524.25,278.49 L524.34,278.49 L525.15,278.46 L525.23,278.45 L526.04,278.4 L526.13,278.4 L526.93,278.33 L527.02,278.32 L527.83,278.23 L527.91,278.22 L528.71,278.11 L528.8,278.1 L529.6,277.97 L529.68,277.95 L530.48,277.81 L530.56,277.79 L531.36,277.62 L531.44,277.6 L532.23,277.42 L532.31,277.4 L533.09,277.19 L533.18,277.17 L533.95,276.94 L534.04,276.92 L534.81,276.67 L534.89,276.64 L535.66,276.38 L535.74,276.35 L536.5,276.07 L536.58,276.04 L537.33,275.74 L537.41,275.7 L538.15,275.39 L538.23,275.35 L538.97,275.01 L539.04,274.98 L539.77,274.62 L539.85,274.58 L540.57,274.21 L540.64,274.17 L541.35,273.78 L541.43,273.74 L542.13,273.33 L542.2,273.28 L542.89,272.86 L542.96,272.81 L543.64,272.37 L543.71,272.32 L544.38,271.87 L544.45,271.82 L545.11,271.34 L545.18,271.29 L545.82,270.8 L545.89,270.75 L546.52,270.24 L546.59,270.19 L547.21,269.67 L547.27,269.61 L547.88,269.07 L547.94,269.02 L548.54,268.46 L548.6,268.41 L549.18,267.84 L549.24,267.78 L549.81,267.2 L549.86,267.14 L550.42,266.54 L550.47,266.48 L551.01,265.87 L551.07,265.81 L551.59,265.19 L551.64,265.12 L552,264.67 L552,219.33 L551.64,218.88 L551.59,218.81 L551.07,218.19 L551.01,218.13 L550.47,217.52 L550.42,217.46 L549.86,216.86 L549.81,216.8 L549.24,216.22 L549.18,216.16 L548.6,215.59 L548.54,215.54 L547.94,214.98 L547.88,214.93 L547.27,214.39 L547.21,214.33 L546.59,213.81 L546.52,213.76 L545.89,213.25 L545.82,213.2 L545.18,212.71 L545.11,212.66 L544.45,212.18 L544.38,212.13 L543.71,211.68 L543.64,211.63 L542.96,211.19 L542.89,211.14 L542.2,210.72 L542.13,210.67 L541.43,210.26 L541.35,210.22 L540.64,209.83 L540.57,209.79 L539.85,209.42 L539.77,209.38 L539.04,209.02 L538.97,208.99 L538.23,208.65 L538.15,208.61 L537.41,208.3 L537.33,208.26 L536.58,207.96 L536.5,207.93 L535.74,207.65 L535.66,207.62 L534.89,207.36 L534.81,207.33 L534.04,207.08 L533.95,207.06 L533.18,206.83 L533.09,206.81 L532.31,206.6 L532.23,206.58 L531.44,206.4 L531.36,206.38 L530.56,206.21 L530.48,206.19 L529.68,206.05 L529.6,206.03 L528.8,205.9 L528.71,205.89 L527.91,205.78 L527.83,205.77 L527.02,205.68 L526.93,205.67 L526.13,205.6 L526.04,205.6 L525.23,205.55 L525.15,205.54 L524.34,205.51 L524.25,205.51 L523.44,205.5 L523.36,205.5 L522.55,205.51 L522.46,205.51 L521.65,205.54 L521.57,205.55 L520.76,205.6 L520.67,205.6 L519.87,205.67 L519.78,205.68 L518.97,205.77 L518.89,205.78 L518.09,205.89 L518,205.9 L517.2,206.03 L517.12,206.05 L516.32,206.19 L516.24,206.21 L515.44,206.38 L515.36,206.4 L514.57,206.58 L514.49,206.6 L513.71,206.81 L513.62,206.83 L512.85,207.06 L512.76,207.08 L512.06,207.31 L511.89,207.36 L511.73,207.4 L511.56,207.45 L511.39,207.48 L511.22,207.52 L511.06,207.55 L510.89,207.57 L510.72,207.59 L510.54,207.61 L510.37,207.62 L510.2,207.63 L510.03,207.63 L509.86,207.63 L509.69,207.63 L509.51,207.62 L509.34,207.61 L509.17,207.59 L509,207.57 L508.83,207.55 L508.66,207.52 L508.49,207.48 L508.33,207.45 L508.16,207.4 L507.99,207.36 L507.83,207.31 L507.67,207.25 L507.5,207.2 L507.34,207.13 L507.19,207.07 L507.03,207 L506.87,206.93 L506.72,206.85 L506.57,206.77 L506.42,206.68 L506.27,206.59 L506.13,206.5 L505.98,206.41 L505.84,206.31 L505.71,206.21 L505.57,206.1 L505.44,205.99 L505.31,205.88 L505.18,205.76 L505.05,205.65 L504.93,205.52 L504.82,205.4 L504.7,205.27 L504.59,205.14 L504.48,205.01 L504.37,204.87 L504.27,204.74 L504.17,204.6 L504.08,204.45 L503.98,204.31 L503.9,204.16 L503.81,204.01 L503.73,203.86 L503.65,203.71 L503.58,203.55 L503.51,203.39 L503.44,203.23 L503.38,203.07 L503.32,202.91 L503.27,202.75 L503.22,202.58 L503.17,202.42 L503.13,202.25 L503.1,202.08 L503.06,201.92 L503.03,201.75 L503.01,201.58 L502.99,201.41 L502.89,200.56 L502.88,200.48 L502.76,199.55 L502.74,199.47 L502.6,198.55 L502.58,198.46 L502.41,197.55 L502.39,197.46 L502.2,196.55 L502.18,196.47 L501.97,195.56 L501.95,195.47 L501.71,194.57 L501.68,194.49 L501.42,193.59 L501.4,193.51 L501.12,192.62 L501.09,192.54 L500.79,191.66 L500.76,191.58 L500.43,190.7 L500.4,190.62 L500.06,189.76 L500.02,189.68 L499.66,188.82 L499.62,188.74 L499.23,187.9 L499.2,187.82 L498.79,186.98 L498.75,186.9 L498.32,186.08 L498.28,186 L497.83,185.18 L497.79,185.11 L497.32,184.3 L497.27,184.23 L496.78,183.43 L496.74,183.36 L496.23,182.58 L496.18,182.51 L495.65,181.74 L495.6,181.67 L495.06,180.91 L495.01,180.84 L494.44,180.1 L494.39,180.03 L493.81,179.31 L493.75,179.24 L493.15,178.53 L493.1,178.46 L492.48,177.76 L492.42,177.7 L491.79,177.02 L491.73,176.95 L491.07,176.29 L491.01,176.23 L490.35,175.57 L490.28,175.51 L489.6,174.88 L489.54,174.82 L488.84,174.2 L488.77,174.15 L488.06,173.55 L487.99,173.49 L487.27,172.91 L487.2,172.86 L486.46,172.29 L486.39,172.24 L485.63,171.7 L485.56,171.65 L484.79,171.12 L484.72,171.07 L483.94,170.56 L483.87,170.52 L483.07,170.03 L483,169.98 L482.19,169.51 L482.12,169.47 L481.3,169.02 L481.22,168.98 L480.4,168.55 L480.32,168.51 L479.48,168.1 L479.4,168.07 L478.56,167.68 L478.48,167.64 L477.62,167.28 L477.54,167.24 L476.68,166.9 L476.6,166.87 L475.72,166.54 L475.64,166.51 L475.61,166.5 L447.79,166.5 L447.76,166.51 L447.68,166.54 L446.8,166.87 L446.72,166.9 L445.86,167.24 L445.78,167.28 L444.92,167.64 L444.84,167.68 L444,168.07 L443.92,168.1 L443.08,168.51 L443,168.55 L442.18,168.98 L442.1,169.02 L441.28,169.47 L441.21,169.51 L440.4,169.98 L440.33,170.03 L439.53,170.52 L439.46,170.56 L438.68,171.07 L438.61,171.12 L437.84,171.65 L437.77,171.7 L437.01,172.24 L436.94,172.29 L436.2,172.86 L436.13,172.91 L435.41,173.49 L435.34,173.55 L434.63,174.15 L434.56,174.2 L433.86,174.82 L433.8,174.88 L433.12,175.51 L433.05,175.57 L432.39,176.23 L432.33,176.29 L431.67,176.95 L431.61,177.02 L431.33,177.32 L431.21,177.45 L431.09,177.57 L430.96,177.69 L430.84,177.8 L430.71,177.92 L430.57,178.02 L430.44,178.13 L430.3,178.23 L430.16,178.33 L430.02,178.43 L429.87,178.52 L429.72,178.61 L429.58,178.69 L429.42,178.77 L429.27,178.85 L429.12,178.92 L428.96,178.99 L428.8,179.06 L428.64,179.12 L428.48,179.18 L428.31,179.23 L428.15,179.28 L427.98,179.33 L427.82,179.37 L427.65,179.41 L427.48,179.44 L427.31,179.47 L427.14,179.5 L426.97,179.52 L426.8,179.53 L426.63,179.55 L426.46,179.55 L426.29,179.56 L426.11,179.56 L425.94,179.55 L425.77,179.55 L425.6,179.53 L425.43,179.52 L425.26,179.5 L425.09,179.47 L424.92,179.44 L424.75,179.41 L424.58,179.37 L424.42,179.33 L424.25,179.28 L424.09,179.23 L423.92,179.18 L423.76,179.12 L423.6,179.06 L423.44,178.99 L423.28,178.92 L423.13,178.85 L422.98,178.77 L422.82,178.69 L422.68,178.61 L422.53,178.52 L422.38,178.43 L422.24,178.33 L422.1,178.23 L421.96,178.13 L421.83,178.02 L421.69,177.92 L421.56,177.8 L421.44,177.69 L421.31,177.57 L421.19,177.45 L421.07,177.32 L420.83,177.06 L420.82,177.05 L420.79,177.02 L420.73,176.95 L420.69,176.92 L420.46,176.68 L420.11,176.32 L420.07,176.29 L420.01,176.23 L419.98,176.19 L419.38,175.61 L419.35,175.57 L419.28,175.51 L419.25,175.48 L419.1,175.34 L418.64,174.91 L418.6,174.88 L418.54,174.82 L418.5,174.79 L417.88,174.24 L417.84,174.2 L417.77,174.15 L417.74,174.12 L417.24,173.7 L417.1,173.58 L417.06,173.55 L416.99,173.49 L416.96,173.46 L416.82,173.36 L416.3,172.94 L416.27,172.91 L416.2,172.86 L416.16,172.83 L415.8,172.56 L415.49,172.32 L415.46,172.29 L415.39,172.24 L415.35,172.21 L414.67,171.72 L414.63,171.7 L414.56,171.65 L414.52,171.62 L413.83,171.15 L413.79,171.12 L413.72,171.07 L413.68,171.04 L413.31,170.8 L412.98,170.59 L412.94,170.56 L412.87,170.52 L412.82,170.49 L412.13,170.06 L412.11,170.05 L412.07,170.03 L412,169.98 L411.96,169.96 L411.23,169.54 L411.19,169.51 L411.12,169.47 L411.07,169.45 L410.34,169.04 L410.3,169.02 L410.22,168.98 L410.18,168.96 L409.94,168.83 L409.44,168.57 L409.4,168.55 L409.32,168.51 L409.28,168.49 L409.13,168.42 L408.53,168.12 L408.48,168.1 L408.4,168.07 L408.36,168.05 L407.6,167.7 L407.56,167.68 L407.48,167.64 L407.43,167.62 L406.67,167.3 L406.62,167.28 L406.54,167.24 L406.5,167.22 L406.03,167.04 L405.72,166.91 L405.68,166.9 L405.6,166.87 L405.55,166.85 L404.8,166.57 L404.77,166.56 L404.72,166.54 L404.64,166.51 L404.61,166.5 L376.79,166.5 L376.76,166.51 L376.68,166.54 L376.63,166.56 L376.6,166.57 L375.85,166.85 L375.8,166.87 L375.72,166.9 L375.68,166.91 L375.37,167.04 L374.9,167.22 L374.86,167.24 L374.78,167.28 L374.73,167.3 L373.97,167.62 L373.92,167.64 L373.84,167.68 L373.8,167.7 L373.04,168.05 L373,168.07 L372.92,168.1 L372.87,168.12 L372.27,168.42 L372.12,168.49 L372.08,168.51 L372,168.55 L371.96,168.57 L371.46,168.83 L371.22,168.96 L371.18,168.98 L371.1,169.02 L371.06,169.04 L370.33,169.45 L370.28,169.47 L370.21,169.51 L370.17,169.54 L369.44,169.96 L369.4,169.98 L369.33,170.03 L369.29,170.05 L369.27,170.06 L368.58,170.49 L368.53,170.52 L368.46,170.56 L368.42,170.59 L368.09,170.8 L367.72,171.04 L367.68,171.07 L367.61,171.12 L367.57,171.15 L366.88,171.62 L366.84,171.65 L366.77,171.7 L366.73,171.72 L366.05,172.21 L366.01,172.24 L365.94,172.29 L365.91,172.32 L365.6,172.56 L365.24,172.83 L365.2,172.86 L365.13,172.91 L365.1,172.94 L364.72,173.24 L364.44,173.46 L364.41,173.49 L364.34,173.55 L364.3,173.58 L363.66,174.12 L363.63,174.15 L363.56,174.2 L363.52,174.24 L362.9,174.79 L362.86,174.82 L362.8,174.88 L362.76,174.91 L362.15,175.48 L362.12,175.51 L362.05,175.57 L362.02,175.61 L361.42,176.19 L361.39,176.23 L361.33,176.29 L361.29,176.32 L360.94,176.68 L360.71,176.92 L360.67,176.95 L360.61,177.02 L360.58,177.05 L360.26,177.4 L360.01,177.66 L359.98,177.7 L359.92,177.76 L359.89,177.8 L359.34,178.42 L359.3,178.46 L359.25,178.53 L359.22,178.56 L358.68,179.2 L358.65,179.24 L358.59,179.31 L358.56,179.34 L358.04,180 L358.01,180.03 L357.96,180.1 L357.93,180.14 L357.85,180.24 L357.42,180.81 L357.39,180.84 L357.34,180.91 L357.31,180.95 L357.09,181.27 L356.82,181.63 L356.8,181.67 L356.75,181.74 L356.72,181.78 L356.32,182.36 L356.25,182.47 L356.22,182.51 L356.17,182.58 L356.14,182.62 L355.95,182.92 L355.69,183.32 L355.66,183.36 L355.62,183.43 L355.59,183.48 L355.4,183.78 L355.15,184.19 L355.13,184.23 L355.08,184.3 L355.06,184.34 L354.85,184.71 L354.64,185.07 L354.61,185.11 L354.57,185.18 L354.55,185.23 L354.23,185.8 L354.14,185.96 L354.12,186 L354.08,186.08 L354.06,186.12 L353.98,186.28 L353.67,186.86 L353.65,186.9 L353.61,186.98 L353.59,187.02 L353.43,187.36 L353.22,187.77 L353.2,187.82 L353.17,187.9 L353.15,187.94 L352.8,188.7 L352.78,188.74 L352.74,188.82 L352.72,188.87 L352.4,189.63 L352.38,189.68 L352.34,189.76 L352.32,189.8 L352.06,190.47 L352.01,190.58 L352,190.62 L351.97,190.7 L351.95,190.75 L351.85,191.02 L351.66,191.53 L351.64,191.58 L351.61,191.66 L351.6,191.71 L351.32,192.5 L351.31,192.54 L351.28,192.62 L351.27,192.67 L351.01,193.47 L351,193.51 L350.98,193.59 L350.96,193.64 L350.96,193.65 L350.73,194.44 L350.72,194.49 L350.69,194.57 L350.68,194.62 L350.47,195.43 L350.45,195.47 L350.43,195.56 L350.42,195.61 L350.23,196.42 L350.22,196.47 L350.2,196.55 L350.19,196.6 L350.13,196.87 L350.02,197.41 L350.01,197.46 L349.99,197.55 L349.98,197.59 L349.89,198.09 L349.83,198.41 L349.82,198.46 L349.8,198.55 L349.8,198.6 L349.73,199.01 L349.66,199.42 L349.66,199.47 L349.64,199.55 L349.64,199.6 L349.57,200.12 L349.52,200.43 L349.52,200.48 L349.51,200.56 L349.5,200.61 L349.41,201.44 L349.4,201.49 L349.4,201.58 L349.39,201.62 L349.32,202.46 L349.32,202.5 L349.31,202.59 L349.31,202.64 L349.26,203.47 L349.25,203.52 L349.25,203.61 L349.25,203.66 L349.22,204.49 L349.21,204.54 L349.21,204.62 L349.21,204.67 L349.2,205.51 L349.2,205.56 L349.2,205.64 L349.2,205.69 L349.21,206.53 L349.21,206.58 L349.21,206.66 L349.22,206.71 L349.25,207.54 L349.25,207.59 L349.25,207.68 L349.26,207.73 L349.31,208.56 L349.31,208.61 L349.32,208.7 L349.32,208.74 L349.39,209.58 L349.4,209.62 L349.4,209.71 L349.41,209.76 L349.5,210.59 L349.51,210.64 L349.52,210.72 L349.52,210.77 L349.6,211.35 L349.64,211.6 L349.64,211.65 L349.66,211.73 L349.66,211.78 L349.8,212.6 L349.8,212.65 L349.82,212.74 L349.83,212.79 L349.98,213.61 L349.99,213.65 L350.01,213.74 L350.02,213.79 L350.19,214.6 L350.2,214.65 L350.22,214.73 L350.23,214.78 L350.42,215.59 L350.43,215.64 L350.45,215.73 L350.47,215.77 L350.5,215.88 L350.68,216.58 L350.69,216.63 L350.72,216.71 L350.72,216.74 L350.81,217.08 L350.9,217.44 Z" stroke-width="1.95" fill="none" />
<path d="M354.22,216.27 L354.3,216.63 L354.32,216.71 L354.4,217.07 L354.42,217.16 L354.48,217.52 L354.5,217.6 L354.56,217.97 L354.57,218.05 L354.62,218.42 L354.63,218.5 L354.67,218.87 L354.68,218.95 L354.71,219.32 L354.72,219.4 L354.74,219.77 L354.74,219.86 L354.76,220.23 L354.76,220.31 L354.76,220.68 L354.76,220.77 L354.76,221.13 L354.76,221.22 L354.74,221.59 L354.74,221.67 L354.72,222.04 L354.71,222.13 L354.68,222.49 L354.67,222.58 L354.63,222.94 L354.62,223.03 L354.57,223.39 L354.56,223.48 L354.5,223.84 L354.48,223.93 L354.42,224.29 L354.4,224.37 L354.32,224.73 L354.3,224.82 L354.22,225.18 L354.2,225.26 L354.1,225.62 L354.08,225.7 L353.98,226.05 L353.95,226.13 L353.84,226.48 L353.82,226.57 L353.7,226.91 L353.67,227 L353.54,227.34 L353.51,227.42 L353.37,227.76 L353.34,227.84 L353.19,228.18 L353.16,228.26 L353,228.59 L352.97,228.67 L352.81,229 L352.77,229.08 L352.6,229.41 L352.56,229.48 L352.38,229.8 L352.34,229.88 L352.15,230.2 L352.11,230.27 L351.92,230.58 L351.87,230.66 L351.67,230.96 L351.62,231.04 L351.41,231.34 L351.36,231.41 L351.15,231.71 L351.1,231.78 L350.87,232.07 L350.82,232.14 L350.59,232.43 L350.54,232.49 L350.3,232.77 L350.24,232.84 L350,233.11 L349.94,233.18 L349.69,233.45 L349.63,233.51 L349.37,233.77 L349.31,233.83 L349.05,234.09 L348.99,234.15 L348.72,234.4 L348.65,234.46 L348.38,234.7 L348.31,234.76 L348.03,235 L347.97,235.05 L347.68,235.28 L347.61,235.33 L347.32,235.56 L347.25,235.61 L346.95,235.82 L346.88,235.87 L346.58,236.08 L346.5,236.13 L346.2,236.33 L346.12,236.37 L345.81,236.57 L345.74,236.61 L345.42,236.8 L345.34,236.84 L345.02,237.02 L344.95,237.06 L344.62,237.23 L344.54,237.27 L344.21,237.43 L344.13,237.46 L343.8,237.62 L343.72,237.65 L343.38,237.8 L343.3,237.83 L342.96,237.97 L342.88,238 L342.54,238.13 L342.45,238.16 L342.11,238.27 L342.02,238.3 L341.67,238.41 L341.59,238.44 L341.24,238.54 L341.16,238.56 L340.8,238.66 L340.72,238.68 L340.36,238.76 L340.27,238.78 L339.91,238.86 L339.83,238.87 L339.47,238.94 L339.38,238.96 L339.02,239.02 L338.93,239.03 L338.57,239.08 L338.48,239.09 L338.12,239.13 L338.03,239.14 L337.67,239.17 L337.58,239.18 L337.21,239.2 L337.13,239.2 L336.76,239.22 L336.67,239.22 L336.31,239.22 L336.22,239.22 L335.85,239.22 L335.77,239.22 L335.4,239.2 L335.31,239.2 L334.94,239.18 L334.86,239.17 L334.49,239.14 L334.41,239.13 L334.04,239.09 L333.96,239.08 L333.59,239.03 L333.51,239.02 L333.14,238.96 L333.06,238.94 L332.7,238.87 L332.61,238.86 L332.25,238.78 L332.17,238.76 L331.81,238.68 L331.73,238.66 L331.37,238.56 L331.29,238.54 L330.98,238.45 L330.94,238.44 L330.91,238.43 L330.88,238.42 L330.08,238.19 L330.06,238.18 L330.01,238.17 L329.99,238.16 L329.19,237.96 L329.15,237.94 L329.11,237.93 L329.09,237.93 L328.68,237.83 L328.27,237.73 L328.25,237.73 L328.2,237.72 L328.18,237.71 L327.61,237.59 L327.36,237.54 L327.33,237.53 L327.29,237.53 L327.27,237.52 L326.96,237.46 L326.44,237.37 L326.42,237.36 L326.38,237.36 L326.35,237.35 L325.52,237.22 L325.5,237.21 L325.45,237.21 L325.43,237.2 L325.05,237.15 L324.6,237.09 L324.57,237.09 L324.53,237.08 L324.5,237.08 L323.67,236.99 L323.65,236.99 L323.6,236.98 L323.58,236.98 L323.23,236.95 L322.74,236.91 L322.72,236.91 L322.67,236.9 L322.65,236.9 L321.81,236.85 L321.79,236.85 L321.74,236.85 L321.72,236.84 L320.88,236.81 L320.85,236.81 L320.81,236.81 L320.78,236.81 L319.95,236.8 L319.92,236.8 L319.88,236.8 L319.85,236.8 L319.02,236.81 L318.99,236.81 L318.95,236.81 L318.92,236.81 L318.08,236.84 L318.06,236.85 L318.01,236.85 L317.99,236.85 L317.15,236.9 L317.13,236.9 L317.08,236.91 L317.06,236.91 L316.57,236.95 L316.22,236.98 L316.2,236.98 L316.15,236.99 L316.13,236.99 L315.3,237.08 L315.27,237.08 L315.23,237.09 L315.2,237.09 L314.75,237.15 L314.37,237.2 L314.35,237.21 L314.3,237.21 L314.28,237.22 L313.45,237.35 L313.42,237.36 L313.38,237.36 L313.36,237.37 L312.84,237.46 L312.53,237.52 L312.51,237.53 L312.47,237.53 L312.44,237.54 L312.19,237.59 L311.62,237.71 L311.6,237.72 L311.55,237.73 L311.53,237.73 L311.12,237.83 L310.71,237.93 L310.69,237.93 L310.65,237.94 L310.62,237.95 L310.61,237.96 L309.81,238.16 L309.79,238.17 L309.74,238.18 L309.72,238.19 L308.92,238.42 L308.89,238.43 L308.85,238.44 L308.82,238.45 L308.34,238.6 L308.03,238.7 L308,238.71 L307.96,238.73 L307.93,238.73 L307.14,239.01 L307.12,239.01 L307.08,239.03 L307.05,239.04 L306.27,239.33 L306.24,239.34 L306.2,239.35 L306.18,239.36 L305.79,239.52 L305.4,239.67 L305.38,239.68 L305.34,239.7 L305.31,239.71 L304.55,240.04 L304.52,240.05 L304.48,240.07 L304.46,240.08 L303.7,240.43 L303.67,240.44 L303.63,240.46 L303.61,240.47 L303.13,240.71 L302.86,240.84 L302.83,240.85 L302.8,240.87 L302.77,240.88 L302.03,241.26 L302.01,241.28 L301.97,241.3 L301.94,241.31 L301.79,241.39 L301.21,241.71 L301.19,241.73 L301.15,241.75 L301.13,241.76 L300.41,242.18 L300.38,242.2 L300.35,242.22 L300.32,242.23 L299.61,242.67 L299.59,242.68 L299.55,242.71 L299.53,242.72 L298.83,243.18 L298.81,243.19 L298.77,243.22 L298.75,243.23 L298.33,243.52 L298.06,243.7 L298.04,243.72 L298,243.74 L297.98,243.76 L297.62,244.02 L297.3,244.25 L297.28,244.27 L297.25,244.29 L297.22,244.31 L296.56,244.81 L296.54,244.83 L296.5,244.86 L296.48,244.87 L295.83,245.4 L295.81,245.41 L295.78,245.44 L295.76,245.46 L295.29,245.85 L295.12,245.99 L295.1,246.01 L295.06,246.04 L295.04,246.06 L294.96,246.14 L294.42,246.61 L294.4,246.63 L294.37,246.66 L294.34,246.68 L294.03,246.97 L293.73,247.25 L293.71,247.26 L293.68,247.29 L293.66,247.31 L293.07,247.9 L293.05,247.92 L293.02,247.95 L293,247.97 L292.41,248.56 L292.39,248.58 L292.36,248.61 L292.35,248.63 L292.02,248.98 L291.78,249.24 L291.76,249.27 L291.73,249.3 L291.71,249.32 L291.16,249.94 L291.14,249.96 L291.11,250 L291.09,250.02 L290.56,250.66 L290.54,250.68 L290.51,250.71 L290.5,250.73 L289.97,251.38 L289.96,251.4 L289.93,251.44 L289.91,251.46 L289.41,252.12 L289.39,252.15 L289.37,252.18 L289.35,252.2 L289.24,252.36 L288.86,252.88 L288.84,252.9 L288.82,252.94 L288.8,252.96 L288.33,253.65 L288.32,253.67 L288.29,253.71 L288.28,253.73 L287.82,254.43 L287.81,254.45 L287.78,254.49 L287.77,254.51 L287.4,255.11 L287.33,255.22 L287.32,255.25 L287.3,255.28 L287.28,255.31 L286.86,256.03 L286.85,256.05 L286.83,256.09 L286.81,256.11 L286.41,256.84 L286.4,256.87 L286.38,256.91 L286.36,256.93 L285.98,257.67 L285.97,257.7 L285.95,257.73 L285.94,257.76 L285.68,258.29 L285.57,258.51 L285.56,258.53 L285.54,258.57 L285.53,258.6 L285.27,259.15 L285.18,259.36 L285.17,259.38 L285.15,259.42 L285.14,259.45 L284.81,260.21 L284.8,260.24 L284.78,260.28 L284.77,260.3 L284.55,260.87 L284.46,261.08 L284.45,261.1 L284.44,261.14 L284.43,261.17 L284.28,261.56 L284.14,261.95 L284.13,261.98 L284.11,262.02 L284.11,262.04 L283.83,262.83 L283.83,262.86 L283.81,262.9 L283.8,262.93 L283.55,263.72 L283.54,263.75 L283.53,263.79 L283.52,263.82 L283.39,264.28 L283.29,264.62 L283.28,264.64 L283.27,264.69 L283.26,264.71 L283.11,265.29 L283.05,265.52 L283.04,265.55 L283.03,265.59 L283.03,265.61 L282.95,265.92 L282.83,266.43 L282.83,266.45 L282.82,266.5 L282.81,266.52 L282.73,266.93 L282.64,267.34 L282.63,267.37 L282.63,267.41 L282.62,267.43 L282.47,268.26 L282.46,268.28 L282.46,268.32 L282.45,268.35 L282.32,269.18 L282.31,269.2 L282.31,269.25 L282.3,269.27 L282.19,270.1 L282.19,270.13 L282.18,270.17 L282.18,270.2 L282.09,271.03 L282.09,271.05 L282.08,271.1 L282.08,271.12 L282.01,271.96 L282.01,271.98 L282,272.03 L282,272.05 L281.95,272.89 L281.95,272.91 L281.95,272.96 L281.94,272.98 L281.93,273.34 L281.91,273.82 L281.91,273.85 L281.91,273.89 L281.91,273.92 L281.9,274.75 L281.9,274.78 L281.9,274.82 L281.9,274.85 L281.91,275.68 L281.91,275.71 L281.91,275.75 L281.91,275.78 L281.94,276.62 L281.95,276.64 L281.95,276.69 L281.95,276.71 L282,277.55 L282,277.57 L282.01,277.62 L282.01,277.64 L282.08,278.48 L282.08,278.5 L282.09,278.55 L282.09,278.57 L282.18,279.4 L282.18,279.43 L282.19,279.47 L282.19,279.5 L282.3,280.33 L282.31,280.35 L282.31,280.4 L282.32,280.42 L282.42,281.04 L282.45,281.25 L282.46,281.28 L282.46,281.32 L282.47,281.34 L282.6,282.07 L282.62,282.17 L282.63,282.19 L282.63,282.23 L282.64,282.26 L282.81,283.08 L282.82,283.1 L282.83,283.15 L282.83,283.17 L283.03,283.99 L283.03,284.01 L283.04,284.05 L283.05,284.08 L283.25,284.82 L283.26,284.89 L283.27,284.91 L283.28,284.96 L283.29,284.98 L283.35,285.2 L283.52,285.78 L283.53,285.81 L283.54,285.85 L283.55,285.88 L283.8,286.67 L283.81,286.7 L283.83,286.74 L283.83,286.77 L283.92,287.01 L284.11,287.56 L284.11,287.58 L284.13,287.62 L284.14,287.65 L284.43,288.43 L284.44,288.46 L284.45,288.5 L284.46,288.52 L284.62,288.91 L284.77,289.3 L284.78,289.32 L284.8,289.36 L284.81,289.39 L284.86,289.5 L285.14,290.15 L285.15,290.18 L285.17,290.22 L285.18,290.24 L285.53,291 L285.54,291.03 L285.56,291.07 L285.57,291.09 L285.94,291.84 L285.95,291.87 L285.97,291.9 L285.98,291.93 L286.29,292.53 L286.36,292.67 L286.38,292.69 L286.4,292.73 L286.41,292.76 L286.52,292.95 L286.81,293.49 L286.83,293.51 L286.85,293.55 L286.86,293.57 L287.28,294.29 L287.3,294.32 L287.32,294.35 L287.33,294.38 L287.77,295.09 L287.78,295.11 L287.81,295.15 L287.82,295.17 L288.28,295.87 L288.29,295.89 L288.32,295.93 L288.33,295.95 L288.8,296.64 L288.82,296.66 L288.84,296.7 L288.86,296.72 L288.98,296.88 L289.35,297.4 L289.37,297.42 L289.39,297.45 L289.41,297.48 L289.91,298.14 L289.93,298.16 L289.96,298.2 L289.97,298.22 L290.5,298.87 L290.51,298.89 L290.54,298.92 L290.56,298.94 L291.09,299.58 L291.11,299.6 L291.14,299.64 L291.16,299.66 L291.71,300.28 L291.73,300.3 L291.76,300.33 L291.78,300.36 L292.35,300.97 L292.36,300.99 L292.39,301.02 L292.41,301.04 L293,301.63 L293.02,301.65 L293.05,301.68 L293.07,301.7 L293.66,302.29 L293.68,302.31 L293.71,302.34 L293.73,302.35 L293.86,302.47 L294.34,302.92 L294.37,302.94 L294.4,302.97 L294.42,302.99 L294.54,303.1 L295.04,303.54 L295.06,303.56 L295.1,303.59 L295.12,303.61 L295.76,304.14 L295.78,304.16 L295.81,304.19 L295.83,304.2 L296.48,304.73 L296.5,304.74 L296.54,304.77 L296.56,304.79 L297.22,305.29 L297.25,305.31 L297.28,305.33 L297.3,305.35 L297.76,305.68 L297.98,305.84 L298,305.86 L298.04,305.88 L298.06,305.9 L298.75,306.37 L298.77,306.38 L298.81,306.41 L298.83,306.42 L299.53,306.88 L299.55,306.89 L299.59,306.92 L299.61,306.93 L299.64,306.95 L300.32,307.37 L300.35,307.38 L300.38,307.4 L300.41,307.42 L301.13,307.84 L301.15,307.85 L301.19,307.87 L301.21,307.89 L301.65,308.13 L301.94,308.29 L301.97,308.3 L302.01,308.32 L302.03,308.34 L302.77,308.72 L302.8,308.73 L302.83,308.75 L302.86,308.76 L303.61,309.13 L303.63,309.14 L303.67,309.16 L303.7,309.17 L304.46,309.52 L304.48,309.53 L304.52,309.55 L304.55,309.56 L304.98,309.74 L305.31,309.89 L305.34,309.9 L305.38,309.92 L305.4,309.93 L306.18,310.24 L306.2,310.25 L306.24,310.26 L306.27,310.27 L306.75,310.45 L307.05,310.56 L307.08,310.57 L307.12,310.59 L307.14,310.59 L307.76,310.8 L307.93,310.87 L307.96,310.87 L308,310.89 L308.03,310.9 L308.08,310.91 L308.82,311.15 L308.85,311.16 L308.89,311.17 L308.92,311.18 L309.72,311.41 L309.74,311.42 L309.79,311.43 L309.81,311.44 L310.36,311.58 L310.62,311.65 L310.65,311.66 L310.69,311.67 L310.71,311.67 L311.53,311.87 L311.55,311.87 L311.6,311.88 L311.62,311.89 L312.21,312.01 L312.44,312.06 L312.47,312.07 L312.51,312.07 L312.53,312.08 L312.98,312.16 L313.36,312.23 L313.38,312.24 L313.42,312.24 L313.45,312.25 L314.28,312.38 L314.3,312.39 L314.35,312.39 L314.37,312.4 L314.61,312.43 L315.2,312.51 L315.23,312.51 L315.27,312.52 L315.3,312.52 L315.79,312.57 L316.13,312.61 L316.15,312.61 L316.2,312.62 L316.22,312.62 L317.06,312.69 L317.08,312.69 L317.13,312.7 L317.15,312.7 L317.99,312.75 L318.01,312.75 L318.06,312.75 L318.08,312.76 L318.92,312.79 L318.95,312.79 L318.99,312.79 L319.02,312.79 L319.85,312.8 L319.88,312.8 L319.92,312.8 L319.95,312.8 L320.78,312.79 L320.81,312.79 L320.85,312.79 L320.88,312.79 L321.72,312.76 L321.74,312.75 L321.79,312.75 L321.81,312.75 L322.65,312.7 L322.67,312.7 L322.72,312.69 L322.74,312.69 L323.58,312.62 L323.6,312.62 L323.65,312.61 L323.67,312.61 L324.5,312.52 L324.53,312.52 L324.57,312.51 L324.6,312.51 L325.43,312.4 L325.45,312.39 L325.5,312.39 L325.52,312.38 L326.35,312.25 L326.38,312.24 L326.42,312.24 L326.44,312.23 L326.45,312.23 L327.27,312.08 L327.29,312.07 L327.33,312.07 L327.36,312.06 L328.18,311.89 L328.2,311.88 L328.25,311.87 L328.27,311.87 L329.09,311.67 L329.11,311.67 L329.15,311.66 L329.18,311.65 L329.41,311.59 L329.99,311.44 L330.01,311.43 L330.06,311.42 L330.08,311.41 L330.42,311.31 L330.88,311.18 L330.91,311.17 L330.95,311.16 L330.98,311.15 L331.72,310.91 L331.77,310.9 L331.8,310.89 L331.84,310.87 L331.87,310.87 L332.04,310.8 L332.66,310.59 L332.68,310.59 L332.72,310.57 L332.75,310.56 L333.05,310.45 L333.53,310.27 L333.56,310.26 L333.6,310.25 L333.62,310.24 L334.4,309.93 L334.42,309.92 L334.46,309.9 L334.49,309.89 L335.25,309.56 L335.28,309.55 L335.32,309.53 L335.34,309.52 L335.95,309.24 L336.1,309.17 L336.13,309.16 L336.17,309.14 L336.19,309.13 L336.94,308.76 L336.97,308.75 L337,308.73 L337.03,308.72 L337.73,308.36 L337.77,308.34 L337.79,308.32 L337.83,308.3 L337.86,308.29 L338.05,308.18 L338.59,307.89 L338.61,307.87 L338.65,307.85 L338.67,307.84 L339.39,307.42 L339.42,307.4 L339.45,307.38 L339.48,307.37 L340.19,306.93 L340.21,306.92 L340.25,306.89 L340.27,306.88 L340.35,306.82 L340.97,306.42 L340.99,306.41 L341.03,306.38 L341.05,306.37 L341.74,305.9 L341.76,305.88 L341.8,305.86 L341.82,305.84 L342.3,305.49 L342.5,305.35 L342.52,305.33 L342.55,305.31 L342.58,305.29 L342.71,305.19 L343.24,304.79 L343.26,304.77 L343.3,304.74 L343.32,304.73 L343.97,304.2 L343.99,304.19 L344.02,304.16 L344.04,304.14 L344.68,303.61 L344.7,303.59 L344.74,303.56 L344.76,303.54 L345.32,303.04 L345.38,302.99 L345.4,302.97 L345.43,302.94 L345.46,302.92 L345.94,302.47 L346.07,302.35 L346.09,302.34 L346.12,302.31 L346.14,302.29 L346.31,302.11 L346.73,301.7 L346.75,301.68 L346.78,301.65 L346.8,301.63 L347.22,301.21 L347.25,301.18 L347.37,301.06 L347.43,301 L347.56,300.88 L347.62,300.82 L347.75,300.71 L347.81,300.65 L347.94,300.54 L348,300.48 L348.14,300.38 L348.2,300.32 L348.34,300.22 L348.4,300.16 L348.54,300.06 L348.61,300.01 L348.75,299.91 L348.82,299.87 L348.96,299.77 L349.03,299.72 L349.18,299.63 L349.25,299.59 L349.39,299.5 L349.47,299.46 L349.62,299.37 L349.69,299.33 L349.84,299.25 L349.92,299.21 L350.07,299.13 L350.15,299.1 L350.3,299.02 L350.38,298.99 L350.53,298.92 L350.61,298.88 L350.77,298.82 L350.85,298.79 L351.01,298.73 L351.09,298.7 L351.25,298.64 L351.33,298.61 L351.49,298.56 L351.57,298.53 L351.73,298.48 L351.81,298.45 L351.98,298.41 L352.06,298.39 L352.23,298.34 L352.31,298.32 L352.48,298.29 L352.56,298.27 L352.73,298.23 L352.81,298.22 L352.98,298.19 L353.06,298.17 L353.23,298.15 L353.31,298.14 L353.48,298.12 L353.57,298.11 L353.74,298.09 L353.82,298.08 L353.99,298.07 L354.08,298.06 L354.25,298.05 L354.33,298.05 L354.5,298.04 L354.59,298.04 L354.76,298.04 L354.84,298.04 L355.02,298.04 L355.1,298.05 L355.27,298.05 L355.36,298.06 L355.53,298.07 L355.61,298.08 L355.78,298.09 L355.87,298.1 L356.04,298.12 L356.12,298.13 L356.29,298.16 L356.37,298.17 L356.54,298.2 L356.62,298.21 L356.79,298.24 L356.88,298.26 L357.04,298.3 L357.13,298.32 L357.29,298.36 L357.37,298.38 L357.54,298.42 L357.62,298.44 L357.78,298.49 L357.87,298.52 L358.03,298.57 L358.11,298.6 L358.27,298.65 L358.35,298.68 L358.51,298.74 L358.59,298.77 L358.75,298.84 L358.83,298.87 L358.98,298.94 L359.06,298.97 L359.22,299.04 L359.29,299.08 L359.45,299.16 L359.52,299.19 L359.67,299.27 L359.75,299.31 L359.9,299.4 L359.97,299.44 L360.12,299.52 L360.19,299.57 L360.34,299.66 L360.41,299.7 L360.55,299.8 L360.62,299.84 L360.76,299.94 L360.83,299.99 L360.97,300.09 L361.04,300.14 L361.17,300.24 L361.24,300.3 L361.37,300.4 L361.44,300.46 L361.57,300.57 L361.63,300.62 L361.76,300.74 L361.83,300.79 L361.95,300.91 L362.01,300.97 L362.13,301.09 L362.19,301.15 L362.31,301.27 L362.37,301.33 L362.49,301.46 L362.52,301.49 L362.56,301.53 L363.16,302.19 L363.19,302.22 L363.82,302.85 L363.85,302.88 L364.48,303.51 L364.51,303.54 L365.17,304.14 L365.2,304.17 L365.86,304.76 L365.9,304.79 L366.58,305.36 L366.61,305.39 L367.3,305.94 L367.34,305.97 L368.05,306.51 L368.08,306.53 L368.8,307.06 L368.84,307.08 L369.57,307.58 L369.61,307.61 L370.35,308.09 L370.39,308.12 L371.15,308.58 L371.18,308.6 L371.95,309.05 L371.99,309.07 L372.77,309.5 L372.81,309.52 L373.6,309.93 L373.63,309.95 L374.43,310.34 L374.47,310.36 L375.28,310.73 L375.32,310.75 L376.14,311.1 L376.18,311.12 L377,311.45 L377.04,311.46 L377.88,311.77 L377.92,311.79 L378.76,312.07 L378.8,312.09 L379.65,312.36 L379.69,312.37 L380.54,312.62 L380.59,312.63 L381.45,312.86 L381.49,312.87 L382.35,313.07 L382.4,313.08 L383.27,313.27 L383.31,313.27 L384.18,313.44 L384.22,313.44 L385.1,313.59 L385.15,313.59 L386.03,313.71 L386.07,313.72 L386.95,313.81 L387,313.82 L387.88,313.89 L387.93,313.9 L388.81,313.95 L388.86,313.95 L389.75,313.99 L389.79,313.99 L390.68,314 L390.72,314 L391.61,313.99 L391.65,313.99 L392.54,313.95 L392.59,313.95 L393.47,313.9 L393.52,313.89 L394.4,313.82 L394.45,313.81 L395.33,313.72 L395.37,313.71 L396.25,313.59 L396.3,313.59 L397.18,313.44 L397.22,313.44 L398.09,313.27 L398.13,313.27 L399,313.08 L399.05,313.07 L399.91,312.87 L399.95,312.86 L400.81,312.63 L400.86,312.62 L401.71,312.37 L401.75,312.36 L402.6,312.09 L402.64,312.07 L403.48,311.79 L403.52,311.77 L404.36,311.46 L404.4,311.45 L405.22,311.12 L405.26,311.1 L406.08,310.75 L406.12,310.73 L406.93,310.36 L406.97,310.34 L407.77,309.95 L407.8,309.93 L408.59,309.52 L408.63,309.5 L409.41,309.07 L409.45,309.05 L410.22,308.6 L410.25,308.58 L411.01,308.12 L411.05,308.09 L411.79,307.61 L411.83,307.58 L412.56,307.08 L412.6,307.06 L413.32,306.53 L413.35,306.51 L414.06,305.97 L414.1,305.94 L414.79,305.39 L414.82,305.36 L415.5,304.79 L415.54,304.76 L416.2,304.17 L416.23,304.14 L416.89,303.54 L416.92,303.51 L417.55,302.88 L417.58,302.85 L418.21,302.22 L418.24,302.19 L418.51,301.89 L418.54,301.86 L418.66,301.74 L418.72,301.68 L418.84,301.56 L418.9,301.5 L419.02,301.38 L419.09,301.32 L419.21,301.2 L419.28,301.15 L419.41,301.03 L419.47,300.98 L419.61,300.87 L419.67,300.82 L419.81,300.71 L419.88,300.66 L420.01,300.56 L420.08,300.51 L420.22,300.41 L420.3,300.36 L420.44,300.26 L420.51,300.22 L420.66,300.12 L420.73,300.08 L420.88,299.99 L420.95,299.95 L421.1,299.86 L421.17,299.82 L421.33,299.74 L421.4,299.7 L421.56,299.62 L421.63,299.59 L421.79,299.51 L421.87,299.48 L422.02,299.41 L422.1,299.37 L422.26,299.31 L422.34,299.28 L422.5,299.21 L422.58,299.18 L422.74,299.13 L422.82,299.1 L422.99,299.04 L423.07,299.02 L423.23,298.97 L423.32,298.94 L423.48,298.9 L423.57,298.88 L423.73,298.84 L423.82,298.82 L423.98,298.78 L424.07,298.76 L424.24,298.73 L424.32,298.71 L424.49,298.68 L424.57,298.67 L424.74,298.64 L424.83,298.63 L425,298.61 L425.09,298.6 L425.26,298.58 L425.34,298.58 L425.51,298.56 L425.6,298.56 L425.77,298.55 L425.86,298.55 L426.03,298.54 L426.11,298.54 L426.29,298.54 L426.37,298.54 L426.54,298.55 L426.63,298.55 L426.8,298.56 L426.89,298.56 L427.06,298.58 L427.14,298.58 L427.31,298.6 L427.4,298.61 L427.57,298.63 L427.66,298.64 L427.83,298.67 L427.91,298.68 L428.08,298.71 L428.16,298.73 L428.33,298.76 L428.42,298.78 L428.58,298.82 L428.67,298.84 L428.83,298.88 L428.92,298.9 L429.08,298.94 L429.17,298.97 L429.33,299.02 L429.41,299.04 L429.58,299.1 L429.66,299.13 L429.82,299.18 L429.9,299.21 L430.06,299.28 L430.14,299.31 L430.3,299.37 L430.38,299.41 L430.53,299.48 L430.61,299.51 L430.77,299.59 L430.84,299.62 L431,299.7 L431.07,299.74 L431.23,299.82 L431.3,299.86 L431.45,299.95 L431.52,299.99 L431.67,300.08 L431.74,300.12 L431.89,300.22 L431.96,300.26 L432.1,300.36 L432.18,300.41 L432.32,300.51 L432.39,300.56 L432.52,300.66 L432.59,300.71 L432.73,300.82 L432.79,300.87 L432.93,300.98 L432.99,301.03 L433.12,301.15 L433.19,301.2 L433.31,301.32 L433.38,301.38 L433.5,301.5 L433.56,301.56 L433.68,301.68 L433.74,301.74 L433.86,301.86 L433.89,301.89 L434.16,302.19 L434.19,302.22 L434.82,302.85 L434.85,302.88 L435.48,303.51 L435.51,303.54 L436.17,304.14 L436.2,304.17 L436.86,304.76 L436.9,304.79 L437.58,305.36 L437.61,305.39 L438.3,305.94 L438.34,305.97 L439.05,306.51 L439.08,306.53 L439.8,307.06 L439.84,307.08 L440.57,307.58 L440.61,307.61 L441.35,308.09 L441.39,308.12 L442.15,308.58 L442.18,308.6 L442.95,309.05 L442.99,309.07 L443.77,309.5 L443.81,309.52 L444.6,309.93 L444.63,309.95 L445.43,310.34 L445.47,310.36 L446.28,310.73 L446.32,310.75 L447.14,311.1 L447.18,311.12 L448,311.45 L448.04,311.46 L448.88,311.77 L448.92,311.79 L449.76,312.07 L449.8,312.09 L450.65,312.36 L450.69,312.37 L451.54,312.62 L451.59,312.63 L452.45,312.86 L452.49,312.87 L453.35,313.07 L453.4,313.08 L454.27,313.27 L454.31,313.27 L455.18,313.44 L455.22,313.44 L456.1,313.59 L456.15,313.59 L457.03,313.71 L457.07,313.72 L457.95,313.81 L458,313.82 L458.88,313.89 L458.93,313.9 L459.81,313.95 L459.86,313.95 L460.75,313.99 L460.79,313.99 L461.68,314 L461.72,314 L462.61,313.99 L462.65,313.99 L463.54,313.95 L463.59,313.95 L464.47,313.9 L464.52,313.89 L465.4,313.82 L465.45,313.81 L466.33,313.72 L466.37,313.71 L467.25,313.59 L467.3,313.59 L468.18,313.44 L468.22,313.44 L469.09,313.27 L469.13,313.27 L470,313.08 L470.05,313.07 L470.91,312.87 L470.95,312.86 L471.81,312.63 L471.86,312.62 L472.71,312.37 L472.75,312.36 L473.6,312.09 L473.64,312.07 L474.48,311.79 L474.52,311.77 L475.36,311.46 L475.4,311.45 L476.22,311.12 L476.26,311.1 L477.08,310.75 L477.12,310.73 L477.93,310.36 L477.97,310.34 L478.77,309.95 L478.8,309.93 L479.59,309.52 L479.63,309.5 L480.41,309.07 L480.45,309.05 L481.22,308.6 L481.25,308.58 L482.01,308.12 L482.05,308.09 L482.79,307.61 L482.83,307.58 L483.56,307.08 L483.6,307.06 L484.32,306.53 L484.35,306.51 L485.06,305.97 L485.1,305.94 L485.79,305.39 L485.82,305.36 L486.5,304.79 L486.54,304.76 L487.2,304.17 L487.23,304.14 L487.89,303.54 L487.92,303.51 L488.55,302.88 L488.58,302.85 L489.21,302.22 L489.24,302.19 L489.84,301.53 L489.87,301.5 L490.46,300.84 L490.49,300.8 L491.06,300.12 L491.09,300.09 L491.64,299.4 L491.67,299.36 L492.21,298.65 L492.23,298.62 L492.76,297.9 L492.78,297.86 L493.28,297.13 L493.31,297.09 L493.79,296.35 L493.82,296.31 L494.28,295.55 L494.3,295.52 L494.75,294.75 L494.77,294.71 L495.2,293.93 L495.22,293.89 L495.63,293.1 L495.65,293.07 L496.04,292.27 L496.06,292.23 L496.43,291.42 L496.45,291.38 L496.8,290.56 L496.82,290.52 L497.15,289.7 L497.16,289.66 L497.47,288.82 L497.49,288.78 L497.77,287.94 L497.79,287.9 L498.06,287.05 L498.07,287.01 L498.32,286.16 L498.33,286.11 L498.56,285.25 L498.57,285.21 L498.77,284.35 L498.78,284.3 L498.97,283.43 L498.97,283.39 L499.14,282.52 L499.14,282.48 L499.28,281.6 L499.29,281.56 L499.32,281.39 L499.34,281.31 L499.37,281.14 L499.39,281.06 L499.42,280.89 L499.44,280.81 L499.49,280.64 L499.51,280.56 L499.55,280.39 L499.58,280.31 L499.63,280.15 L499.65,280.07 L499.7,279.9 L499.73,279.82 L499.79,279.66 L499.82,279.58 L499.88,279.42 L499.91,279.34 L499.98,279.19 L500.01,279.11 L500.08,278.95 L500.12,278.87 L500.19,278.72 L500.23,278.64 L500.3,278.49 L500.34,278.41 L500.42,278.26 L500.46,278.19 L500.55,278.04 L500.59,277.97 L500.68,277.82 L500.72,277.75 L500.81,277.6 L500.86,277.53 L500.95,277.39 L501,277.32 L501.1,277.18 L501.15,277.11 L501.25,276.97 L501.3,276.9 L501.41,276.77 L501.46,276.7 L501.57,276.57 L501.62,276.5 L501.73,276.37 L501.79,276.31 L501.9,276.18 L501.96,276.12 L502.08,276 L502.14,275.93 L502.26,275.81 L502.32,275.75 L502.44,275.64 L502.5,275.58 L502.63,275.46 L502.69,275.4 L502.82,275.29 L502.89,275.24 L503.02,275.13 L503.09,275.07 L503.22,274.97 L503.29,274.92 L503.42,274.81 L503.49,274.76 L503.63,274.67 L503.7,274.62 L503.84,274.52 L503.92,274.47 L504.06,274.38 L504.13,274.34 L504.28,274.25 L504.35,274.21 L504.5,274.12 L504.57,274.08 L504.72,274 L504.8,273.96 L504.95,273.88 L505.03,273.84 L505.18,273.77 L505.26,273.73 L505.42,273.66 L505.49,273.63 L505.65,273.56 L505.73,273.53 L505.89,273.47 L505.97,273.44 L506.13,273.38 L506.21,273.35 L506.37,273.29 L506.45,273.27 L506.62,273.22 L506.7,273.19 L506.86,273.15 L506.94,273.12 L507.11,273.08 L507.19,273.06 L507.36,273.02 L507.44,273 L507.61,272.97 L507.69,272.95 L507.86,272.92 L507.94,272.91 L508.11,272.88 L508.2,272.87 L508.37,272.85 L508.45,272.84 L508.62,272.82 L508.71,272.81 L508.88,272.8 L508.96,272.79 L509.13,272.78 L509.22,272.78 L509.39,272.77 L509.47,272.77 L509.64,272.77 L509.73,272.77 L509.9,272.77 L509.99,272.77 L510.16,272.78 L510.24,272.79 L510.41,272.8 L510.5,272.8 L510.67,272.82 L510.75,272.83 L510.92,272.85 L511.01,272.86 L511.18,272.88 L511.26,272.89 L511.43,272.92 L511.51,272.94 L511.68,272.97 L511.76,272.98 L511.93,273.02 L512.01,273.04 L512.18,273.08 L512.26,273.1 L512.43,273.14 L512.51,273.17 L512.67,273.21 L512.76,273.24 L512.92,273.29 L512.96,273.3 L513.08,273.34 L513.8,273.57 L513.84,273.58 L514.58,273.8 L514.62,273.81 L515.36,274.01 L515.4,274.02 L516.15,274.19 L516.19,274.2 L516.94,274.36 L516.98,274.37 L517.74,274.51 L517.78,274.52 L518.54,274.64 L518.58,274.65 L519.34,274.75 L519.38,274.75 L520.14,274.84 L520.19,274.84 L520.95,274.91 L520.99,274.91 L521.76,274.96 L521.8,274.96 L522.57,274.99 L522.61,274.99 L523.38,275 L523.42,275 L524.19,274.99 L524.23,274.99 L525,274.96 L525.04,274.96 L525.81,274.91 L525.85,274.91 L526.61,274.84 L526.66,274.84 L527.42,274.75 L527.46,274.75 L528.22,274.65 L528.26,274.64 L529.02,274.52 L529.06,274.51 L529.82,274.37 L529.86,274.36 L530.61,274.2 L530.65,274.19 L531.4,274.02 L531.44,274.01 L532.18,273.81 L532.22,273.8 L532.96,273.58 L533,273.57 L533.73,273.34 L533.77,273.33 L534.5,273.08 L534.54,273.06 L535.26,272.8 L535.3,272.78 L536.01,272.5 L536.05,272.48 L536.75,272.18 L536.79,272.16 L537.49,271.84 L537.53,271.82 L538.22,271.49 L538.26,271.47 L538.94,271.11 L538.97,271.09 L539.65,270.72 L539.68,270.7 L540.35,270.32 L540.38,270.29 L541.04,269.89 L541.07,269.87 L541.72,269.45 L541.75,269.43 L542.38,268.99 L542.42,268.97 L543.04,268.52 L543.08,268.49 L543.69,268.03 L543.72,268 L544.32,267.52 L544.35,267.5 L544.94,267 L544.97,266.97 L545.55,266.47 L545.58,266.44 L546.14,265.91 L546.17,265.88 L546.72,265.35 L546.75,265.32 L547.28,264.77 L547.31,264.74 L547.84,264.18 L547.87,264.15 L548.37,263.57 L548.4,263.54 L548.9,262.95 L548.92,262.92 L549.4,262.32 L549.43,262.29 L549.89,261.68 L549.92,261.64 L550.37,261.02 L550.39,260.98 L550.83,260.35 L550.85,260.32 L551.27,259.67 L551.29,259.64 L551.69,258.98 L551.72,258.95 L552,258.46 L552,225.54 L551.72,225.05 L551.69,225.02 L551.29,224.36 L551.27,224.33 L550.85,223.68 L550.83,223.65 L550.39,223.02 L550.37,222.98 L549.92,222.36 L549.89,222.32 L549.43,221.71 L549.4,221.68 L548.92,221.08 L548.9,221.05 L548.4,220.46 L548.37,220.43 L547.87,219.85 L547.84,219.82 L547.31,219.26 L547.28,219.23 L546.75,218.68 L546.72,218.65 L546.17,218.12 L546.14,218.09 L545.58,217.56 L545.55,217.53 L544.97,217.03 L544.94,217 L544.35,216.5 L544.32,216.48 L543.72,216 L543.69,215.97 L543.08,215.51 L543.04,215.48 L542.42,215.03 L542.38,215.01 L541.75,214.57 L541.72,214.55 L541.07,214.13 L541.04,214.11 L540.38,213.71 L540.35,213.68 L539.68,213.3 L539.65,213.28 L538.97,212.91 L538.94,212.89 L538.26,212.53 L538.22,212.51 L537.53,212.18 L537.49,212.16 L536.79,211.84 L536.75,211.82 L536.05,211.52 L536.01,211.5 L535.3,211.22 L535.26,211.2 L534.54,210.94 L534.5,210.92 L533.77,210.67 L533.73,210.66 L533,210.43 L532.96,210.42 L532.22,210.2 L532.18,210.19 L531.44,209.99 L531.4,209.98 L530.65,209.81 L530.61,209.8 L529.86,209.64 L529.82,209.63 L529.06,209.49 L529.02,209.48 L528.26,209.36 L528.22,209.35 L527.46,209.25 L527.42,209.25 L526.66,209.16 L526.61,209.16 L525.85,209.09 L525.81,209.09 L525.04,209.04 L525,209.04 L524.23,209.01 L524.19,209.01 L523.42,209 L523.38,209 L522.61,209.01 L522.57,209.01 L521.8,209.04 L521.76,209.04 L520.99,209.09 L520.95,209.09 L520.19,209.16 L520.14,209.16 L519.38,209.25 L519.34,209.25 L518.58,209.35 L518.54,209.36 L517.78,209.48 L517.74,209.49 L516.98,209.63 L516.94,209.64 L516.19,209.8 L516.15,209.81 L515.4,209.98 L515.36,209.99 L514.62,210.19 L514.58,210.2 L513.84,210.42 L513.8,210.43 L513.11,210.64 L513.07,210.66 L512.91,210.71 L512.83,210.73 L512.66,210.78 L512.58,210.8 L512.41,210.84 L512.33,210.86 L512.16,210.9 L512.08,210.92 L511.91,210.95 L511.82,210.97 L511.65,210.99 L511.57,211.01 L511.4,211.03 L511.31,211.05 L511.14,211.07 L511.06,211.08 L510.89,211.09 L510.8,211.1 L510.63,211.11 L510.54,211.12 L510.37,211.13 L510.29,211.13 L510.12,211.13 L510.03,211.13 L509.86,211.13 L509.77,211.13 L509.6,211.13 L509.51,211.13 L509.34,211.12 L509.26,211.11 L509.09,211.1 L509,211.09 L508.83,211.08 L508.74,211.07 L508.57,211.05 L508.49,211.03 L508.32,211.01 L508.23,210.99 L508.06,210.97 L507.98,210.95 L507.81,210.92 L507.73,210.9 L507.56,210.86 L507.48,210.84 L507.31,210.8 L507.23,210.78 L507.06,210.73 L506.98,210.71 L506.81,210.66 L506.73,210.63 L506.57,210.58 L506.49,210.55 L506.33,210.49 L506.25,210.46 L506.08,210.4 L506,210.37 L505.85,210.3 L505.77,210.27 L505.61,210.2 L505.53,210.16 L505.38,210.09 L505.3,210.05 L505.15,209.97 L505.07,209.94 L504.92,209.85 L504.84,209.81 L504.69,209.73 L504.62,209.69 L504.47,209.6 L504.4,209.55 L504.25,209.46 L504.18,209.41 L504.04,209.32 L503.97,209.27 L503.83,209.17 L503.76,209.12 L503.62,209.02 L503.55,208.97 L503.42,208.86 L503.35,208.81 L503.22,208.7 L503.15,208.64 L503.02,208.53 L502.96,208.47 L502.83,208.36 L502.77,208.3 L502.64,208.18 L502.58,208.12 L502.46,208 L502.4,207.94 L502.28,207.81 L502.22,207.75 L502.11,207.62 L502.05,207.56 L501.94,207.43 L501.88,207.36 L501.77,207.23 L501.72,207.16 L501.61,207.03 L501.56,206.96 L501.46,206.82 L501.41,206.75 L501.31,206.61 L501.26,206.54 L501.17,206.4 L501.12,206.32 L501.03,206.18 L500.98,206.11 L500.89,205.96 L500.85,205.89 L500.77,205.74 L500.72,205.66 L500.64,205.51 L500.6,205.43 L500.53,205.28 L500.49,205.2 L500.42,205.05 L500.38,204.97 L500.31,204.81 L500.28,204.73 L500.21,204.57 L500.18,204.49 L500.12,204.33 L500.09,204.25 L500.03,204.09 L500,204.01 L499.95,203.85 L499.92,203.77 L499.87,203.6 L499.85,203.52 L499.8,203.35 L499.78,203.27 L499.74,203.1 L499.72,203.02 L499.68,202.85 L499.66,202.77 L499.63,202.6 L499.61,202.51 L499.58,202.35 L499.57,202.26 L499.55,202.09 L499.53,202.01 L499.51,201.84 L499.51,201.79 L499.42,200.97 L499.41,200.93 L499.29,200.05 L499.29,200 L499.14,199.12 L499.14,199.08 L498.97,198.21 L498.97,198.17 L498.78,197.3 L498.77,197.25 L498.57,196.39 L498.56,196.35 L498.33,195.49 L498.32,195.44 L498.07,194.59 L498.06,194.55 L497.79,193.7 L497.77,193.66 L497.49,192.82 L497.47,192.78 L497.16,191.94 L497.15,191.9 L496.82,191.08 L496.8,191.04 L496.45,190.22 L496.43,190.18 L496.06,189.37 L496.04,189.33 L495.65,188.53 L495.63,188.5 L495.22,187.71 L495.2,187.67 L494.77,186.89 L494.75,186.85 L494.3,186.08 L494.28,186.05 L493.82,185.29 L493.79,185.25 L493.31,184.51 L493.28,184.47 L492.78,183.74 L492.76,183.7 L492.23,182.98 L492.21,182.95 L491.67,182.24 L491.64,182.2 L491.09,181.51 L491.06,181.48 L490.49,180.8 L490.46,180.76 L489.87,180.1 L489.84,180.07 L489.24,179.41 L489.21,179.38 L488.58,178.75 L488.55,178.72 L487.92,178.09 L487.89,178.06 L487.23,177.46 L487.2,177.43 L486.54,176.84 L486.5,176.81 L485.82,176.24 L485.79,176.21 L485.1,175.66 L485.06,175.63 L484.35,175.09 L484.32,175.07 L483.6,174.54 L483.56,174.52 L482.83,174.02 L482.79,173.99 L482.05,173.51 L482.01,173.48 L481.25,173.02 L481.22,173 L480.45,172.55 L480.41,172.53 L479.63,172.1 L479.59,172.08 L478.8,171.67 L478.77,171.65 L477.97,171.26 L477.93,171.24 L477.12,170.87 L477.08,170.85 L476.26,170.5 L476.22,170.48 L475.4,170.15 L475.36,170.14 L474.52,169.83 L474.48,169.81 L473.64,169.53 L473.6,169.51 L472.75,169.24 L472.71,169.23 L471.86,168.98 L471.81,168.97 L470.95,168.74 L470.91,168.73 L470.05,168.53 L470,168.52 L469.13,168.33 L469.09,168.33 L468.22,168.16 L468.18,168.16 L467.3,168.01 L467.25,168.01 L466.37,167.89 L466.33,167.88 L465.45,167.79 L465.4,167.78 L464.52,167.71 L464.47,167.7 L463.59,167.65 L463.54,167.65 L462.65,167.61 L462.61,167.61 L461.72,167.6 L461.68,167.6 L460.79,167.61 L460.75,167.61 L459.86,167.65 L459.81,167.65 L458.93,167.7 L458.88,167.71 L458,167.78 L457.95,167.79 L457.07,167.88 L457.03,167.89 L456.15,168.01 L456.1,168.01 L455.22,168.16 L455.18,168.16 L454.31,168.33 L454.27,168.33 L453.4,168.52 L453.35,168.53 L452.49,168.73 L452.45,168.74 L451.59,168.97 L451.54,168.98 L450.69,169.23 L450.65,169.24 L449.8,169.51 L449.76,169.53 L448.92,169.81 L448.88,169.83 L448.04,170.14 L448,170.15 L447.18,170.48 L447.14,170.5 L446.32,170.85 L446.28,170.87 L445.47,171.24 L445.43,171.26 L444.63,171.65 L444.6,171.67 L443.81,172.08 L443.77,172.1 L442.99,172.53 L442.95,172.55 L442.18,173 L442.15,173.02 L441.39,173.48 L441.35,173.51 L440.61,173.99 L440.57,174.02 L439.84,174.52 L439.8,174.54 L439.08,175.07 L439.05,175.09 L438.34,175.63 L438.3,175.66 L437.61,176.21 L437.58,176.24 L436.9,176.81 L436.86,176.84 L436.2,177.43 L436.17,177.46 L435.51,178.06 L435.48,178.09 L434.85,178.72 L434.82,178.75 L434.19,179.38 L434.16,179.41 L433.89,179.71 L433.86,179.74 L433.74,179.86 L433.68,179.92 L433.56,180.04 L433.5,180.1 L433.38,180.22 L433.31,180.28 L433.19,180.4 L433.12,180.45 L432.99,180.57 L432.93,180.62 L432.79,180.73 L432.73,180.78 L432.59,180.89 L432.52,180.94 L432.39,181.04 L432.32,181.09 L432.18,181.19 L432.1,181.24 L431.96,181.34 L431.89,181.38 L431.74,181.48 L431.67,181.52 L431.52,181.61 L431.45,181.65 L431.3,181.74 L431.23,181.78 L431.07,181.86 L431,181.9 L430.84,181.98 L430.77,182.01 L430.61,182.09 L430.53,182.12 L430.38,182.19 L430.3,182.23 L430.14,182.29 L430.06,182.32 L429.9,182.39 L429.82,182.42 L429.66,182.47 L429.58,182.5 L429.41,182.56 L429.33,182.58 L429.17,182.63 L429.08,182.66 L428.92,182.7 L428.83,182.72 L428.67,182.76 L428.58,182.78 L428.42,182.82 L428.33,182.84 L428.16,182.87 L428.08,182.89 L427.91,182.92 L427.83,182.93 L427.66,182.96 L427.57,182.97 L427.4,182.99 L427.31,183 L427.14,183.02 L427.06,183.02 L426.89,183.04 L426.8,183.04 L426.63,183.05 L426.54,183.05 L426.37,183.06 L426.29,183.06 L426.11,183.06 L426.03,183.06 L425.86,183.05 L425.77,183.05 L425.6,183.04 L425.51,183.04 L425.34,183.02 L425.26,183.02 L425.09,183 L425,182.99 L424.83,182.97 L424.74,182.96 L424.57,182.93 L424.49,182.92 L424.32,182.89 L424.24,182.87 L424.07,182.84 L423.98,182.82 L423.82,182.78 L423.73,182.76 L423.57,182.72 L423.48,182.7 L423.32,182.66 L423.23,182.63 L423.07,182.58 L422.99,182.56 L422.82,182.5 L422.74,182.47 L422.58,182.42 L422.5,182.39 L422.34,182.32 L422.26,182.29 L422.1,182.23 L422.02,182.19 L421.87,182.12 L421.79,182.09 L421.63,182.01 L421.56,181.98 L421.4,181.9 L421.33,181.86 L421.17,181.78 L421.1,181.74 L420.95,181.65 L420.88,181.61 L420.73,181.52 L420.66,181.48 L420.51,181.38 L420.44,181.34 L420.3,181.24 L420.22,181.19 L420.08,181.09 L420.01,181.04 L419.88,180.94 L419.81,180.89 L419.67,180.78 L419.61,180.73 L419.47,180.62 L419.41,180.57 L419.28,180.45 L419.21,180.4 L419.09,180.28 L419.02,180.22 L418.9,180.1 L418.84,180.04 L418.72,179.92 L418.66,179.86 L418.54,179.74 L418.51,179.71 L418.26,179.44 L418.24,179.41 L418.21,179.38 L418.19,179.36 L417.95,179.12 L417.6,178.77 L417.58,178.75 L417.55,178.72 L417.53,178.7 L416.94,178.11 L416.92,178.09 L416.89,178.06 L416.87,178.05 L416.72,177.91 L416.26,177.48 L416.23,177.46 L416.2,177.43 L416.18,177.41 L415.56,176.86 L415.54,176.84 L415.5,176.81 L415.48,176.79 L414.98,176.37 L414.84,176.26 L414.82,176.24 L414.79,176.21 L414.77,176.2 L414.64,176.09 L414.12,175.67 L414.1,175.66 L414.06,175.63 L414.04,175.61 L413.68,175.34 L413.38,175.11 L413.35,175.09 L413.32,175.07 L413.3,175.05 L412.62,174.56 L412.6,174.54 L412.56,174.52 L412.54,174.5 L411.85,174.03 L411.83,174.02 L411.79,173.99 L411.77,173.98 L411.4,173.73 L411.07,173.52 L411.05,173.51 L411.01,173.48 L410.99,173.47 L410.29,173.04 L410.28,173.03 L410.25,173.02 L410.22,173 L410.19,172.98 L409.47,172.56 L409.45,172.55 L409.41,172.53 L409.39,172.51 L408.66,172.11 L408.63,172.1 L408.59,172.08 L408.57,172.06 L408.32,171.94 L407.83,171.68 L407.8,171.67 L407.77,171.65 L407.74,171.64 L407.6,171.57 L406.99,171.27 L406.97,171.26 L406.93,171.24 L406.9,171.23 L406.14,170.88 L406.12,170.87 L406.08,170.85 L406.05,170.84 L405.29,170.51 L405.26,170.5 L405.22,170.48 L405.2,170.47 L404.73,170.29 L404.42,170.16 L404.4,170.15 L404.36,170.14 L404.33,170.13 L403.58,169.85 L403.55,169.84 L403.52,169.83 L403.48,169.81 L403.46,169.81 L402.8,169.58 L402.67,169.53 L402.64,169.53 L402.6,169.51 L402.57,169.5 L401.78,169.25 L401.75,169.24 L401.71,169.23 L401.68,169.22 L400.88,168.99 L400.86,168.98 L400.81,168.97 L400.79,168.96 L399.98,168.75 L399.95,168.74 L399.91,168.73 L399.89,168.73 L399.28,168.58 L399.07,168.53 L399.05,168.53 L399,168.52 L398.98,168.51 L398.16,168.34 L398.13,168.33 L398.09,168.33 L398.07,168.32 L397.68,168.25 L397.24,168.17 L397.22,168.16 L397.18,168.16 L397.15,168.15 L396.58,168.06 L396.32,168.02 L396.3,168.01 L396.25,168.01 L396.23,168 L395.81,167.95 L395.4,167.89 L395.37,167.89 L395.33,167.88 L395.3,167.88 L394.59,167.8 L394.47,167.79 L394.45,167.79 L394.4,167.78 L394.38,167.78 L394.23,167.77 L393.54,167.71 L393.52,167.71 L393.47,167.7 L393.45,167.7 L392.87,167.67 L392.61,167.65 L392.59,167.65 L392.54,167.65 L392.52,167.64 L391.68,167.61 L391.65,167.61 L391.61,167.61 L391.58,167.61 L390.75,167.6 L390.72,167.6 L390.68,167.6 L390.65,167.6 L389.82,167.61 L389.79,167.61 L389.75,167.61 L389.72,167.61 L388.88,167.64 L388.86,167.65 L388.81,167.65 L388.79,167.65 L387.95,167.7 L387.93,167.7 L387.88,167.71 L387.86,167.71 L387.19,167.76 L387.02,167.78 L387,167.78 L386.95,167.79 L386.93,167.79 L386.42,167.84 L386.1,167.88 L386.07,167.88 L386.03,167.89 L386,167.89 L385.55,167.95 L385.17,168 L385.15,168.01 L385.1,168.01 L385.08,168.02 L384.82,168.06 L384.25,168.15 L384.22,168.16 L384.18,168.16 L384.16,168.17 L383.72,168.25 L383.33,168.32 L383.31,168.33 L383.27,168.33 L383.24,168.34 L382.42,168.51 L382.4,168.52 L382.35,168.53 L382.33,168.53 L382.12,168.58 L381.51,168.73 L381.49,168.73 L381.45,168.74 L381.42,168.75 L380.61,168.96 L380.59,168.97 L380.54,168.98 L380.52,168.99 L379.72,169.22 L379.69,169.23 L379.65,169.24 L379.62,169.25 L378.83,169.5 L378.8,169.51 L378.76,169.53 L378.73,169.53 L378.6,169.58 L377.94,169.81 L377.92,169.81 L377.88,169.83 L377.85,169.84 L377.82,169.85 L377.07,170.13 L377.04,170.14 L377,170.15 L376.98,170.16 L376.67,170.29 L376.2,170.47 L376.18,170.48 L376.14,170.5 L376.11,170.51 L375.35,170.84 L375.32,170.85 L375.28,170.87 L375.26,170.88 L374.5,171.23 L374.47,171.24 L374.43,171.26 L374.41,171.27 L373.8,171.57 L373.66,171.64 L373.63,171.65 L373.6,171.67 L373.57,171.68 L373.08,171.94 L372.83,172.06 L372.81,172.08 L372.77,172.1 L372.74,172.11 L372.01,172.51 L371.99,172.53 L371.95,172.55 L371.93,172.56 L371.21,172.98 L371.18,173 L371.15,173.02 L371.12,173.03 L370.41,173.47 L370.39,173.48 L370.35,173.51 L370.33,173.52 L370,173.73 L369.63,173.98 L369.61,173.99 L369.57,174.02 L369.55,174.03 L368.86,174.5 L368.84,174.52 L368.8,174.54 L368.78,174.56 L368.1,175.05 L368.08,175.07 L368.05,175.09 L368.02,175.11 L367.72,175.34 L367.36,175.61 L367.34,175.63 L367.3,175.66 L367.28,175.67 L366.91,175.97 L366.63,176.2 L366.61,176.21 L366.58,176.24 L366.56,176.26 L365.92,176.79 L365.9,176.81 L365.86,176.84 L365.84,176.86 L365.22,177.41 L365.2,177.43 L365.17,177.46 L365.14,177.48 L364.53,178.05 L364.51,178.06 L364.48,178.09 L364.46,178.11 L363.87,178.7 L363.85,178.72 L363.82,178.75 L363.8,178.77 L363.45,179.12 L363.21,179.36 L363.19,179.38 L363.16,179.41 L363.15,179.43 L362.82,179.78 L362.58,180.04 L362.56,180.07 L362.53,180.1 L362.51,180.12 L361.96,180.74 L361.94,180.76 L361.91,180.8 L361.89,180.82 L361.36,181.46 L361.34,181.48 L361.31,181.51 L361.3,181.53 L360.77,182.18 L360.76,182.2 L360.73,182.24 L360.71,182.26 L360.64,182.36 L360.21,182.92 L360.19,182.95 L360.17,182.98 L360.15,183 L359.92,183.32 L359.66,183.68 L359.64,183.7 L359.62,183.74 L359.6,183.76 L359.21,184.34 L359.13,184.45 L359.12,184.47 L359.09,184.51 L359.08,184.53 L358.88,184.83 L358.62,185.23 L358.61,185.25 L358.58,185.29 L358.57,185.31 L358.38,185.62 L358.13,186.02 L358.12,186.05 L358.1,186.08 L358.08,186.11 L357.87,186.47 L357.66,186.83 L357.65,186.85 L357.63,186.89 L357.61,186.91 L357.3,187.49 L357.21,187.64 L357.2,187.67 L357.18,187.71 L357.16,187.73 L357.08,187.89 L356.78,188.47 L356.77,188.5 L356.75,188.53 L356.74,188.56 L356.57,188.89 L356.37,189.31 L356.36,189.33 L356.34,189.37 L356.33,189.4 L355.98,190.16 L355.97,190.18 L355.95,190.22 L355.94,190.25 L355.61,191.01 L355.6,191.04 L355.58,191.08 L355.57,191.1 L355.31,191.77 L355.26,191.88 L355.25,191.9 L355.24,191.94 L355.23,191.97 L355.13,192.24 L354.94,192.75 L354.93,192.78 L354.91,192.82 L354.91,192.84 L354.63,193.63 L354.63,193.66 L354.61,193.7 L354.6,193.73 L354.35,194.52 L354.34,194.55 L354.33,194.59 L354.32,194.62 L354.32,194.62 L354.09,195.42 L354.08,195.44 L354.07,195.49 L354.06,195.51 L353.85,196.32 L353.84,196.35 L353.83,196.39 L353.83,196.41 L353.63,197.23 L353.63,197.25 L353.62,197.3 L353.61,197.32 L353.56,197.59 L353.44,198.14 L353.43,198.17 L353.43,198.21 L353.42,198.23 L353.33,198.73 L353.27,199.06 L353.26,199.08 L353.26,199.12 L353.25,199.15 L353.19,199.56 L353.12,199.98 L353.11,200 L353.11,200.05 L353.1,200.07 L353.03,200.59 L352.99,200.9 L352.99,200.93 L352.98,200.97 L352.98,201 L352.89,201.83 L352.89,201.85 L352.88,201.9 L352.88,201.92 L352.81,202.76 L352.81,202.78 L352.8,202.83 L352.8,202.85 L352.75,203.69 L352.75,203.71 L352.75,203.76 L352.74,203.78 L352.71,204.62 L352.71,204.65 L352.71,204.69 L352.71,204.72 L352.7,205.55 L352.7,205.58 L352.7,205.62 L352.7,205.65 L352.71,206.48 L352.71,206.51 L352.71,206.55 L352.71,206.58 L352.74,207.42 L352.75,207.44 L352.75,207.49 L352.75,207.51 L352.8,208.35 L352.8,208.37 L352.81,208.42 L352.81,208.44 L352.88,209.28 L352.88,209.3 L352.89,209.35 L352.89,209.37 L352.98,210.2 L352.98,210.23 L352.99,210.27 L352.99,210.3 L353.07,210.87 L353.1,211.13 L353.11,211.15 L353.11,211.2 L353.12,211.22 L353.25,212.05 L353.26,212.08 L353.26,212.12 L353.27,212.14 L353.42,212.97 L353.43,212.99 L353.43,213.03 L353.44,213.06 L353.61,213.88 L353.62,213.9 L353.63,213.95 L353.63,213.97 L353.83,214.79 L353.83,214.81 L353.84,214.85 L353.85,214.88 L353.88,214.99 L354.06,215.69 L354.07,215.71 L354.08,215.76 L354.09,215.76 L354.11,215.85 L354.2,216.19 L354.22,216.27 Z" stroke-width="1.43" fill="none" />
<circle cx="390.7" cy="205.6" r="30.2" stroke-width="1.56" fill="none" />
<circle cx="390.7" cy="205.6" r="21.6" stroke-width="2.08" fill="none" />
<circle cx="390.7" cy="205.6" r="20" stroke-width="1.3" fill="none" />
<circle cx="390.7" cy="205.6" r="14.2" stroke-width="1.56" fill="none" />
<path d="M379.7,217.6 L379.7,223.1 L401.7,223.1 L401.7,217.6" stroke-width="1.43" fill="none" />
<text x="386.6" y="207.66" font-size="16.13" font-weight="normal" text-anchor="middle" dominant-baseline="central" textLength="21.55" lengthAdjust="spacingAndGlyphs">B1</text>
<line x1="390.7" y1="171.6" x2="390.7" y2="239.6" stroke-width="1.3" stroke-dasharray="16 3 2.5 3"/>
<circle cx="461.7" cy="205.6" r="30.2" stroke-width="1.56" fill="none" />
<circle cx="461.7" cy="205.6" r="21.6" stroke-width="2.08" fill="none" />
<circle cx="461.7" cy="205.6" r="20" stroke-width="1.3" fill="none" />
<circle cx="461.7" cy="205.6" r="14.2" stroke-width="1.56" fill="none" />
<path d="M450.7,217.6 L450.7,223.1 L472.7,223.1 L472.7,217.6" stroke-width="1.43" fill="none" />
<text x="457.6" y="207.66" font-size="16.13" font-weight="normal" text-anchor="middle" dominant-baseline="central" textLength="21.55" lengthAdjust="spacingAndGlyphs">B1</text>
<line x1="461.7" y1="171.6" x2="461.7" y2="239.6" stroke-width="1.3" stroke-dasharray="16 3 2.5 3"/>
<circle cx="319.9" cy="274.8" r="30.5" stroke-width="1.56" fill="none" />
<circle cx="319.9" cy="274.8" r="28.7" stroke-width="1.3" fill="none" />
<circle cx="319.9" cy="274.8" r="12.9" stroke-width="2.6" fill="none" />
<text x="320.58" y="275.52" font-size="16.13" font-weight="normal" text-anchor="middle" dominant-baseline="central" textLength="20.75" lengthAdjust="spacingAndGlyphs">P2</text>
<line x1="319.9" y1="240.8" x2="319.9" y2="308.8" stroke-width="1.3" stroke-dasharray="16 3 2.5 3"/>
<circle cx="390.7" cy="276" r="30.2" stroke-width="1.56" fill="none" />
<circle cx="390.7" cy="276" r="21.6" stroke-width="2.08" fill="none" />
<circle cx="390.7" cy="276" r="20" stroke-width="1.3" fill="none" />
<circle cx="390.7" cy="276" r="14.2" stroke-width="1.56" fill="none" />
<path d="M379.7,264 L379.7,258.5 L401.7,258.5 L401.7,264" stroke-width="1.43" fill="none" />
<text x="387" y="277.9" font-size="16.13" font-weight="normal" text-anchor="middle" dominant-baseline="central" textLength="19.95" lengthAdjust="spacingAndGlyphs">A1</text>
<line x1="390.7" y1="242" x2="390.7" y2="310" stroke-width="1.3" stroke-dasharray="16 3 2.5 3"/>
<circle cx="461.7" cy="276" r="30.2" stroke-width="1.56" fill="none" />
<circle cx="461.7" cy="276" r="21.6" stroke-width="2.08" fill="none" />
<circle cx="461.7" cy="276" r="20" stroke-width="1.3" fill="none" />
<circle cx="461.7" cy="276" r="14.2" stroke-width="1.56" fill="none" />
<path d="M450.7,264 L450.7,258.5 L472.7,258.5 L472.7,264" stroke-width="1.43" fill="none" />
<text x="458" y="277.9" font-size="16.13" font-weight="normal" text-anchor="middle" dominant-baseline="central" textLength="19.95" lengthAdjust="spacingAndGlyphs">A2</text>
<line x1="461.7" y1="242" x2="461.7" y2="310" stroke-width="1.3" stroke-dasharray="16 3 2.5 3"/>
<circle cx="523.4" cy="242" r="30" stroke-width="1.56" fill="none" />
<circle cx="523.4" cy="242" r="25" stroke-width="1.3" fill="none" />
<circle cx="523.4" cy="242" r="12.9" stroke-width="2.6" fill="none" />
<text x="522.64" y="242.9" font-size="16.13" font-weight="normal" text-anchor="middle" dominant-baseline="central" textLength="19.95" lengthAdjust="spacingAndGlyphs">T2</text>
<line x1="523.4" y1="208" x2="523.4" y2="276" stroke-width="1.3" stroke-dasharray="16 3 2.5 3"/>
<text x="326.36" y="206.41" font-size="14.45" font-weight="bold" text-anchor="middle" dominant-baseline="central" textLength="10.68" lengthAdjust="spacingAndGlyphs">P</text>
<text x="521.67" y="324.38" font-size="14.98" font-weight="bold" text-anchor="middle" dominant-baseline="central" textLength="10.66" lengthAdjust="spacingAndGlyphs">T</text>
<line x1="345" y1="205.6" x2="500" y2="205.6" stroke-width="1.3" stroke-dasharray="16 3 2.5 3"/>
<line x1="283" y1="276" x2="505" y2="276" stroke-width="1.3" stroke-dasharray="16 3 2.5 3"/>
<line x1="487" y1="242" x2="560" y2="242" stroke-width="1.3" stroke-dasharray="16 3 2.5 3"/>
<line x1="354" y1="302.6" x2="365.5" y2="398" stroke-width="1.56" />
<line x1="357.5" y1="302.6" x2="368.5" y2="398" stroke-width="1.56" />
<line x1="500" y1="287.5" x2="486.5" y2="398" stroke-width="1.56" />
<line x1="496.5" y1="287.5" x2="483.5" y2="398" stroke-width="1.56" />
<rect x="367.5" y="373.5" width="46" height="19" rx="3" stroke-width="1.69" fill="none" />
<circle cx="370.5" cy="383" r="1.8" stroke-width="1.3" fill="none" />
<circle cx="410.5" cy="383" r="1.8" stroke-width="1.3" fill="none" />
<rect x="438.8" y="373.5" width="46" height="19" rx="3" stroke-width="1.69" fill="none" />
<circle cx="441.8" cy="383" r="1.8" stroke-width="1.3" fill="none" />
<circle cx="481.8" cy="383" r="1.8" stroke-width="1.3" fill="none" />
<path d="M405.7,353 L416,353 L421,358 L416,364 L405.7,364 L410,358.5 Z" stroke-width="1.69" fill="none" />
<path d="M421,357 L432,357 L432,352 L446,358.5 L432,365 L432,360 L421,360 Z" stroke-width="1.69" fill="none" />
<line x1="390.7" y1="300" x2="390.7" y2="520" stroke-width="1.3" stroke-dasharray="16 3 2.5 3"/>
<line x1="461.7" y1="300" x2="461.7" y2="520" stroke-width="1.3" stroke-dasharray="16 3 2.5 3"/>
<line x1="321.5" y1="300" x2="321.5" y2="400" stroke-width="1.43" />
<rect x="306.7" y="406.3" width="47.5" height="35" rx="0" stroke-width="1.82" fill="none" />
<line x1="316.5" y1="406.3" x2="316.5" y2="441.3" stroke-width="1.43" />
<line x1="320.1" y1="406.3" x2="320.1" y2="441.3" stroke-width="1.43" />
<line x1="339.9" y1="406.3" x2="339.9" y2="441.3" stroke-width="1.43" />
<line x1="343.5" y1="406.3" x2="343.5" y2="441.3" stroke-width="1.43" />
<circle cx="348.8" cy="420.2" r="2" stroke-width="1.3" fill="none" />
<path d="M309.4,441.3 L352.4,441.3 L352.4,464 Q352.4,471 345.4,471 L316.4,471 Q309.4,471 309.4,464 Z" stroke-width="1.82" fill="none" />
<line x1="309.4" y1="463.7" x2="352.4" y2="463.7" stroke-width="1.3" />
<rect x="317.4" y="471" width="25.2" height="12.5" rx="0" stroke-width="1.69" fill="none" />
<line x1="324.6" y1="471" x2="324.6" y2="483.5" stroke-width="1.3" />
<line x1="335.4" y1="471" x2="335.4" y2="483.5" stroke-width="1.3" />
<rect x="323.7" y="483.5" width="14.3" height="13.5" rx="0" stroke-width="1.69" fill="none" />
<line x1="330" y1="400" x2="330" y2="497" stroke-width="1.43" />
<path d="M356.7,405.3 L356.7,430 L361.7,503 L371.7,507.4 L409.7,507.4 L419.7,503 L423.7,430 L423.7,405.3" stroke-width="1.82" fill="none" />
<line x1="358.2" y1="405.3" x2="358.2" y2="419.5" stroke-width="1.3" />
<line x1="422.2" y1="405.3" x2="422.2" y2="419.5" stroke-width="1.3" />
<line x1="365" y1="405.3" x2="365" y2="419.5" stroke-width="1.56" />
<line x1="415.2" y1="405.3" x2="415.2" y2="419.5" stroke-width="1.56" />
<line x1="357.7" y1="419.5" x2="422.7" y2="419.5" stroke-width="1.56" />
<rect x="358.2" y="421" width="13.5" height="7.5" rx="0" stroke-width="1.56" fill="none" />
<rect x="409.2" y="421" width="13" height="7.5" rx="0" stroke-width="1.56" fill="none" />
<line x1="359" y1="428.5" x2="359" y2="449.5" stroke-width="1.43" />
<line x1="365" y1="428.5" x2="365" y2="449.5" stroke-width="1.43" />
<line x1="372.5" y1="428.5" x2="372.5" y2="449.5" stroke-width="1.43" />
<line x1="408.5" y1="428.5" x2="408.5" y2="449.5" stroke-width="1.43" />
<line x1="416" y1="428.5" x2="416" y2="449.5" stroke-width="1.43" />
<line x1="420.5" y1="428.5" x2="420.5" y2="449.5" stroke-width="1.43" />
<rect x="371.7" y="504" width="38" height="6" rx="0" stroke-width="1.56" fill="none" />
<circle cx="390.7" cy="468.2" r="31" stroke-width="2.08" fill="#fff" />
<circle cx="390.7" cy="468.2" r="28.5" stroke-width="1.43" fill="none" />
<circle cx="390.7" cy="468.2" r="26" stroke-width="1.56" fill="none" />
<circle cx="390.7" cy="468.2" r="23.5" stroke-width="1.43" fill="none" />
<circle cx="390.7" cy="468.2" r="21" stroke-width="1.56" fill="none" />
<circle cx="390.7" cy="468.2" r="18.6" stroke-width="1.43" fill="none" />
<circle cx="390.7" cy="468.2" r="13.4" stroke-width="2.08" fill="none" />
<line x1="354.7" y1="468.2" x2="426.7" y2="468.2" stroke-width="1.3" stroke-dasharray="16 3 2.5 3"/>
<line x1="390.7" y1="405.3" x2="390.7" y2="419.5" stroke-width="1.43" />
<path d="M427.8,405.3 L427.8,430 L432.8,503 L442.8,507.4 L480.8,507.4 L490.8,503 L494.8,430 L494.8,405.3" stroke-width="1.82" fill="none" />
<line x1="429.3" y1="405.3" x2="429.3" y2="419.5" stroke-width="1.3" />
<line x1="493.3" y1="405.3" x2="493.3" y2="419.5" stroke-width="1.3" />
<line x1="436.1" y1="405.3" x2="436.1" y2="419.5" stroke-width="1.56" />
<line x1="486.3" y1="405.3" x2="486.3" y2="419.5" stroke-width="1.56" />
<line x1="428.8" y1="419.5" x2="493.8" y2="419.5" stroke-width="1.56" />
<rect x="429.3" y="421" width="13.5" height="7.5" rx="0" stroke-width="1.56" fill="none" />
<rect x="480.3" y="421" width="13" height="7.5" rx="0" stroke-width="1.56" fill="none" />
<line x1="430.1" y1="428.5" x2="430.1" y2="449.5" stroke-width="1.43" />
<line x1="436.1" y1="428.5" x2="436.1" y2="449.5" stroke-width="1.43" />
<line x1="443.6" y1="428.5" x2="443.6" y2="449.5" stroke-width="1.43" />
<line x1="479.6" y1="428.5" x2="479.6" y2="449.5" stroke-width="1.43" />
<line x1="487.1" y1="428.5" x2="487.1" y2="449.5" stroke-width="1.43" />
<line x1="491.6" y1="428.5" x2="491.6" y2="449.5" stroke-width="1.43" />
<rect x="442.8" y="504" width="38" height="6" rx="0" stroke-width="1.56" fill="none" />
<circle cx="461.8" cy="468.2" r="31" stroke-width="2.08" fill="#fff" />
<circle cx="461.8" cy="468.2" r="28.5" stroke-width="1.43" fill="none" />
<circle cx="461.8" cy="468.2" r="26" stroke-width="1.56" fill="none" />
<circle cx="461.8" cy="468.2" r="23.5" stroke-width="1.43" fill="none" />
<circle cx="461.8" cy="468.2" r="21" stroke-width="1.56" fill="none" />
<circle cx="461.8" cy="468.2" r="18.6" stroke-width="1.43" fill="none" />
<circle cx="461.8" cy="468.2" r="13.4" stroke-width="2.08" fill="none" />
<line x1="425.8" y1="468.2" x2="497.8" y2="468.2" stroke-width="1.3" stroke-dasharray="16 3 2.5 3"/>
<line x1="461.8" y1="405.3" x2="461.8" y2="419.5" stroke-width="1.43" />
<line x1="297" y1="35.5" x2="297" y2="165" stroke-width="1.43" />
<line x1="538.8" y1="35.5" x2="538.8" y2="165" stroke-width="1.43" />
<line x1="297" y1="43" x2="538.8" y2="43" stroke-width="1.43" />
<path d="M297,43 L308,41.1 L319.5,38.9 L318.5,42.2 L318.5,43.8 L319.5,47.1 L308,44.9 Z" fill="#000" stroke="none"/>
<path d="M538.8,43 L527.8,44.9 L516.3,47.1 L517.3,43.8 L517.3,42.2 L516.3,38.9 L527.8,41.1 Z" fill="#000" stroke="none"/>
<line x1="538.8" y1="43" x2="584.6" y2="43" stroke-width="1.43" />
<text x="570.81" y="27.57" font-size="23.53" font-weight="bold" text-anchor="middle" dominant-baseline="central" textLength="18.12" lengthAdjust="spacingAndGlyphs">A</text>
<line x1="390.7" y1="68.8" x2="462" y2="68.8" stroke-width="1.43" />
<path d="M390.7,68.8 L401.7,66.9 L413.2,64.7 L412.2,68 L412.2,69.6 L413.2,72.9 L401.7,70.7 Z" fill="#000" stroke="none"/>
<path d="M462,68.8 L451,70.7 L439.5,72.9 L440.5,69.6 L440.5,68 L439.5,64.7 L451,66.9 Z" fill="#000" stroke="none"/>
<text x="430.72" y="56.67" font-size="15.44" font-weight="normal" text-anchor="middle" dominant-baseline="central" textLength="21.49" lengthAdjust="spacingAndGlyphs">53</text>
<line x1="279.9" y1="116" x2="279.9" y2="200" stroke-width="1.43" />
<line x1="279.9" y1="123.3" x2="390.7" y2="123.3" stroke-width="1.43" />
<path d="M279.9,123.3 L290.9,121.4 L302.4,119.2 L301.4,122.5 L301.4,124.1 L302.4,127.4 L290.9,125.2 Z" fill="#000" stroke="none"/>
<path d="M390.7,123.3 L379.7,125.2 L368.2,127.4 L369.2,124.1 L369.2,122.5 L368.2,119.2 L379.7,121.4 Z" fill="#000" stroke="none"/>
<text x="330.5" y="111.38" font-size="16.3" font-weight="normal" text-anchor="middle" dominant-baseline="central" textLength="19.95" lengthAdjust="spacingAndGlyphs">82</text>
<line x1="614.2" y1="128" x2="506.5" y2="205.6" stroke-width="1.43" />
<path d="M551.7,172.2 L559.51,164.23 L567.56,155.72 L568.68,158.98 L569.61,160.28 L572.35,162.37 L561.74,167.31 Z" fill="#000" stroke="none"/>
<path d="M527,189.4 L519.19,197.37 L511.14,205.88 L510.02,202.62 L509.09,201.32 L506.35,199.23 L516.96,194.29 Z" fill="#000" stroke="none"/>
<text x="590.4" y="126.71" font-size="18.5" font-weight="normal" text-anchor="middle" dominant-baseline="central" transform="rotate(-35.8 590.4 126.71)" >&#981;11</text>
<line x1="567.9" y1="181.9" x2="606.7" y2="181.9" stroke-width="1.43" />
<line x1="568" y1="386" x2="606" y2="386" stroke-width="1.43" />
<line x1="599.6" y1="181.9" x2="599.6" y2="386" stroke-width="1.43" />
<path d="M599.6,181.9 L601.5,192.9 L603.7,204.4 L600.4,203.4 L598.8,203.4 L595.5,204.4 L597.7,192.9 Z" fill="#000" stroke="none"/>
<path d="M599.6,386 L597.7,375 L595.5,363.5 L598.8,364.5 L600.4,364.5 L603.7,363.5 L601.5,375 Z" fill="#000" stroke="none"/>
<text x="587.76" y="295.38" font-size="17.16" font-weight="normal" text-anchor="middle" dominant-baseline="central" transform="rotate(-90 587.76 295.38)" textLength="29.09" lengthAdjust="spacingAndGlyphs">152</text>
<line x1="278.8" y1="321" x2="278.8" y2="524.7" stroke-width="1.43" />
<line x1="563.3" y1="388" x2="563.3" y2="524.7" stroke-width="1.43" />
<line x1="278.7" y1="517.8" x2="563.3" y2="517.8" stroke-width="1.43" />
<path d="M278.7,517.8 L289.7,515.9 L301.2,513.7 L300.2,517 L300.2,518.6 L301.2,521.9 L289.7,519.7 Z" fill="#000" stroke="none"/>
<path d="M563.3,517.8 L552.3,519.7 L540.8,521.9 L541.8,518.6 L541.8,517 L540.8,513.7 L552.3,515.9 Z" fill="#000" stroke="none"/>
<line x1="563.3" y1="517.8" x2="609.5" y2="517.8" stroke-width="1.43" />
<text x="590.91" y="501.78" font-size="22.72" font-weight="bold" text-anchor="middle" dominant-baseline="central" textLength="13.99" lengthAdjust="spacingAndGlyphs">B</text>
<path d="M678.7,85.1 L679.7,80.7 L715.7,80.7 L716.7,85.1" stroke-width="1.69" fill="none" />
<path d="M666.5,142.7 L666.5,88.2 L670.2,85.1 L725.2,85.1 L728.9,88.2 L728.9,142.7" stroke-width="1.95" fill="none" />
<line x1="672.7" y1="85.7" x2="672.7" y2="142.7" stroke-width="1.43" />
<line x1="678.7" y1="85.7" x2="678.7" y2="142.7" stroke-width="1.43" />
<line x1="716.7" y1="85.7" x2="716.7" y2="142.7" stroke-width="1.43" />
<line x1="722.7" y1="85.7" x2="722.7" y2="142.7" stroke-width="1.43" />
<line x1="667.7" y1="88.5" x2="727.7" y2="88.5" stroke-width="1.17" />
<rect x="664.7" y="142.7" width="14" height="6.2" rx="0" stroke-width="1.56" fill="none" />
<rect x="716.7" y="142.7" width="14" height="6.2" rx="0" stroke-width="1.56" fill="none" />
<rect x="663.7" y="148.9" width="68" height="13.5" rx="0" stroke-width="1.69" fill="none" />
<line x1="671.7" y1="148.9" x2="671.7" y2="162.4" stroke-width="1.43" />
<line x1="723.7" y1="148.9" x2="723.7" y2="162.4" stroke-width="1.43" />
<line x1="657.7" y1="163.2" x2="734.7" y2="163.2" stroke-width="1.69" />
<line x1="697.7" y1="70" x2="697.7" y2="165" stroke-width="1.3" stroke-dasharray="16 3 2.5 3"/>
<path d="M653.5,198 L649.9,198 L649.9,166.7 L772.8,166.7 L772.8,314.8 L745.6,314.8" stroke-width="2.08" fill="none" />
<line x1="653.5" y1="198" x2="653.5" y2="399" stroke-width="2.08" />
<line x1="745" y1="166.7" x2="745" y2="402" stroke-width="1.95" />
<line x1="741.3" y1="315" x2="741.3" y2="400" stroke-width="1.56" />
<path d="M728.4,306.2 Q736,309 741.3,314.8" stroke-width="1.69" fill="none" />
<line x1="658" y1="162.2" x2="737" y2="162.2" stroke-width="1.82" />
<line x1="655" y1="166.2" x2="740" y2="166.2" stroke-width="1.3" />
<line x1="745" y1="208.8" x2="772.8" y2="208.8" stroke-width="1.56" />
<line x1="745" y1="236.6" x2="772.8" y2="236.6" stroke-width="1.56" />
<path d="M772.8,191 L774.6,191 L774.6,302 L772.8,302" stroke-width="1.56" fill="none" />
<rect x="774.6" y="215" width="5.4" height="87" rx="0" stroke-width="1.69" fill="none" />
<line x1="649.9" y1="198" x2="678.6" y2="197" stroke-width="1.56" />
<line x1="709" y1="198" x2="739.6" y2="198" stroke-width="1.56" />
<path d="M739.6,198 L739.6,246 Q739.6,249.2 736,249.2 L716.3,249.2" stroke-width="1.56" fill="none" />
<line x1="743.2" y1="198" x2="743.2" y2="248" stroke-width="1.43" />
<path d="M677.7,236 L677.7,182.8 L716.3,182.8 L716.3,236" stroke-width="1.82" fill="none" />
<path d="M678.5,183.5 L684,196.3 L684,236" stroke-width="1.56" fill="none" />
<line x1="686.6" y1="200" x2="686.6" y2="236" stroke-width="1.3" />
<path d="M715.5,183.5 L709,196.3 L709,236" stroke-width="1.56" fill="none" />
<line x1="711" y1="200" x2="711" y2="236" stroke-width="1.3" />
<circle cx="697.6" cy="275.8" r="40.8" stroke-width="1.95" fill="none" />
<circle cx="697.6" cy="275.8" r="36" stroke-width="1.43" fill="none" />
<circle cx="697.6" cy="275.8" r="31.4" stroke-width="1.69" fill="none" />
<circle cx="697.6" cy="275.8" r="22.9" stroke-width="1.43" fill="none" />
<circle cx="697.6" cy="275.8" r="22" stroke-width="1.69" fill="none" />
<circle cx="697.6" cy="275.8" r="14.8" stroke-width="2.21" fill="none" />
<path d="M681,228.6 C660,240 652,270 660,294 C668,318 690,330 705,327.5 C715,325.5 721,320 726,313.5" stroke-width="1.82" fill="none" />
<path d="M684,231 C664,242 656,270 663,293 C670,315 690,326 705,324 C714,322.5 720,318 724,312" stroke-width="1.3" fill="none" />
<line x1="726.45" y1="304.65" x2="733.66" y2="311.86" stroke-width="1.43" />
<line x1="718" y1="311.13" x2="723.1" y2="319.97" stroke-width="1.43" />
<line x1="708.16" y1="315.21" x2="710.8" y2="325.06" stroke-width="1.43" />
<line x1="697.6" y1="316.6" x2="697.6" y2="326.8" stroke-width="1.43" />
<line x1="687.04" y1="315.21" x2="684.4" y2="325.06" stroke-width="1.43" />
<line x1="677.2" y1="311.13" x2="672.1" y2="319.97" stroke-width="1.43" />
<line x1="668.75" y1="304.65" x2="661.54" y2="311.86" stroke-width="1.43" />
<text x="694.79" y="275.35" font-size="19.01" font-weight="normal" text-anchor="middle" dominant-baseline="central" textLength="21.40" lengthAdjust="spacingAndGlyphs">P1</text>
<line x1="685.3" y1="317" x2="685.3" y2="402" stroke-width="1.56" />
<line x1="697.1" y1="317" x2="697.1" y2="402" stroke-width="1.56" />
<line x1="709" y1="317" x2="709" y2="402" stroke-width="1.56" />
<line x1="686.8" y1="325" x2="686.8" y2="402" stroke-width="1.17" />
<line x1="710.5" y1="325" x2="710.5" y2="402" stroke-width="1.17" />
<rect x="649.7" y="361" width="3.2" height="37" rx="0" stroke-width="1.43" fill="none" />
<rect x="745" y="372" width="3.2" height="30" rx="0" stroke-width="1.43" fill="none" />
<line x1="653.5" y1="398.8" x2="745" y2="398.8" stroke-width="1.82" />
<path d="M649.7,402 L658,405.5 L738,405.5 L747.8,402" stroke-width="1.95" fill="none" />
<line x1="649.7" y1="402" x2="747.8" y2="402" stroke-width="1.82" />
<path d="M664.3,406 L664.3,426.8 L672.5,505 L721,505 L729.2,426.8 L729.2,406" stroke-width="1.95" fill="none" />
<path d="M669.5,427 L676.5,503" stroke-width="1.3" fill="none" />
<path d="M724.2,427 L717.5,503" stroke-width="1.3" fill="none" />
<line x1="670.5" y1="406" x2="670.5" y2="419.6" stroke-width="1.43" />
<line x1="723.5" y1="406" x2="723.5" y2="419.6" stroke-width="1.43" />
<rect x="664.3" y="419.6" width="11.3" height="7.2" rx="0" stroke-width="1.56" fill="none" />
<rect x="716.9" y="419.6" width="12.3" height="7.2" rx="0" stroke-width="1.56" fill="none" />
<line x1="675.6" y1="406" x2="675.6" y2="464" stroke-width="1.69" />
<line x1="716.9" y1="406" x2="716.9" y2="464" stroke-width="1.69" />
<line x1="675.6" y1="441.2" x2="716.9" y2="441.2" stroke-width="2.34" />
<path d="M675.6,464 Q676,471 683,471 L710,471 Q717,471 716.9,464 Z" stroke-width="1.56" fill="none" />
<line x1="675.6" y1="464" x2="716.9" y2="464" stroke-width="1.43" />
<rect x="687" y="471" width="19.5" height="13.5" rx="0" stroke-width="1.69" fill="none" />
<rect x="690" y="484.5" width="13.5" height="12.5" rx="0" stroke-width="1.69" fill="none" />
<line x1="696.8" y1="471" x2="696.8" y2="497" stroke-width="1.3" />
<rect x="677.7" y="505" width="39.2" height="4.3" rx="0" stroke-width="1.82" fill="none" />
<line x1="697.7" y1="406" x2="697.7" y2="441" stroke-width="1.3" stroke-dasharray="16 3 2.5 3"/>
<rect x="737" y="446" width="38" height="45" rx="0" stroke-width="0" fill="#c8c8c8" stroke="none"/>
<rect x="728.4" y="442.8" width="8.4" height="54" rx="0" stroke-width="1.69" fill="#fff" />
<rect x="736.8" y="441.6" width="7.2" height="52.8" rx="3.4" stroke-width="1.95" fill="#fff" />
<rect x="745.2" y="436.8" width="8.4" height="62.4" rx="4" stroke-width="2.21" fill="#fff" />
<rect x="756" y="441.6" width="8.4" height="52.8" rx="4" stroke-width="2.08" fill="#fff" />
<rect x="766.8" y="445.2" width="8.4" height="45.6" rx="4" stroke-width="2.08" fill="#fff" />
<line x1="731" y1="442.8" x2="731" y2="496.8" stroke-width="1.3" />
<path d="M776.4,453.6 L792,453.6 Q798,456 804,453.6 L818.4,453.6 L818.4,483.6 L776.4,483.6 Z" stroke-width="1.82" fill="none" />
<line x1="779" y1="453.6" x2="779" y2="483.6" stroke-width="1.3" />
<rect x="818.4" y="454.8" width="14.4" height="26.4" rx="0" stroke-width="1.69" fill="none" />
<line x1="818.4" y1="462" x2="832.8" y2="462" stroke-width="1.3" />
<line x1="818.4" y1="474" x2="832.8" y2="474" stroke-width="1.3" />
<line x1="832.8" y1="460.8" x2="852" y2="460.8" stroke-width="1.56" />
<line x1="832.8" y1="476.4" x2="852" y2="476.4" stroke-width="1.56" />
<rect x="836.5" y="449" width="8" height="38" rx="0" stroke-width="0" fill="#fff" stroke="none"/>
<path d="M837.6,450 Q841,454 838.6,458.4" stroke-width="1.43" fill="none" />
<path d="M841,450 Q844.4,454 842,458.4" stroke-width="1.43" fill="none" />
<path d="M837.6,476.4 Q841,481 838.6,486" stroke-width="1.43" fill="none" />
<path d="M841,476.4 Q844.4,481 842,486" stroke-width="1.43" fill="none" />
<path d="M852,453.6 L940,450 Q945.6,450 945.6,456 L945.6,480 Q945.6,486 940,486 L852,483.6 Z" stroke-width="1.95" fill="none" />
<line x1="900" y1="450.8" x2="900" y2="485.4" stroke-width="1.43" />
<line x1="910.8" y1="450.6" x2="910.8" y2="485.6" stroke-width="1.43" />
<line x1="670" y1="468.4" x2="949" y2="468.4" stroke-width="1.3" stroke-dasharray="16 3 2.5 3"/>
<line x1="621.5" y1="167" x2="643" y2="167" stroke-width="1.43" />
<line x1="621.5" y1="275" x2="650" y2="275" stroke-width="1.43" />
<line x1="650" y1="275" x2="775" y2="275" stroke-width="1.3" stroke-dasharray="16 3 2.5 3"/>
<line x1="628.7" y1="167" x2="628.7" y2="275" stroke-width="1.43" />
<path d="M628.7,167 L630.6,178 L632.8,189.5 L629.5,188.5 L627.9,188.5 L624.6,189.5 L626.8,178 Z" fill="#000" stroke="none"/>
<path d="M628.7,275 L626.8,264 L624.6,252.5 L627.9,253.5 L629.5,253.5 L632.8,252.5 L630.6,264 Z" fill="#000" stroke="none"/>
<text x="618.07" y="217.29" font-size="17.13" font-weight="normal" text-anchor="middle" dominant-baseline="central" transform="rotate(-90 618.07 217.29)" textLength="15.23" lengthAdjust="spacingAndGlyphs">81</text>
<text x="903.74" y="203.9" font-size="19.58" font-weight="bold" text-anchor="middle" dominant-baseline="central" textLength="144.61" lengthAdjust="spacingAndGlyphs">Размеры&#160;&#160;(мм)</text>
<line x1="827.7" y1="229.2" x2="827.7" y2="369.6" stroke-width="1.62" />
<line x1="903.2" y1="229.2" x2="903.2" y2="369.6" stroke-width="1.62" />
<line x1="942.7" y1="229.2" x2="942.7" y2="369.6" stroke-width="1.62" />
<line x1="982.3" y1="229.2" x2="982.3" y2="369.6" stroke-width="1.62" />
<line x1="827" y1="229.9" x2="983" y2="229.9" stroke-width="1.62" />
<line x1="827" y1="256.3" x2="983" y2="256.3" stroke-width="1.62" />
<line x1="827" y1="284.7" x2="983" y2="284.7" stroke-width="1.62" />
<line x1="827" y1="312.5" x2="983" y2="312.5" stroke-width="1.62" />
<line x1="827" y1="340.3" x2="983" y2="340.3" stroke-width="1.62" />
<line x1="827" y1="368.9" x2="983" y2="368.9" stroke-width="1.62" />
<text x="921.88" y="244.09" font-size="19.33" font-weight="normal" text-anchor="middle" dominant-baseline="central" textLength="11.80" lengthAdjust="spacingAndGlyphs">A</text>
<text x="962.41" y="243.12" font-size="20.9" font-weight="normal" text-anchor="middle" dominant-baseline="central" textLength="10.53" lengthAdjust="spacingAndGlyphs">B</text>
<text x="853.77" y="272.76" font-size="19.49" font-weight="normal" text-anchor="middle" dominant-baseline="central" textLength="44.94" lengthAdjust="spacingAndGlyphs">P120</text>
<text x="923.12" y="272.76" font-size="19.49" font-weight="normal" text-anchor="middle" dominant-baseline="central" textLength="32.98" lengthAdjust="spacingAndGlyphs">129</text>
<text x="963.05" y="272.76" font-size="19.49" font-weight="normal" text-anchor="middle" dominant-baseline="central" textLength="33.50" lengthAdjust="spacingAndGlyphs">160</text>
<text x="865.93" y="301" font-size="19.49" font-weight="normal" text-anchor="middle" dominant-baseline="central" textLength="67.05" lengthAdjust="spacingAndGlyphs">02P120</text>
<text x="923.12" y="301" font-size="19.49" font-weight="normal" text-anchor="middle" dominant-baseline="central" textLength="32.98" lengthAdjust="spacingAndGlyphs">182</text>
<text x="963.45" y="301" font-size="19.49" font-weight="normal" text-anchor="middle" dominant-baseline="central" textLength="32.70" lengthAdjust="spacingAndGlyphs">213</text>
<text x="865.93" y="328.48" font-size="19.49" font-weight="normal" text-anchor="middle" dominant-baseline="central" textLength="67.05" lengthAdjust="spacingAndGlyphs">03P120</text>
<text x="923.12" y="328.48" font-size="19.49" font-weight="normal" text-anchor="middle" dominant-baseline="central" textLength="32.98" lengthAdjust="spacingAndGlyphs">235</text>
<text x="963.45" y="328.48" font-size="19.49" font-weight="normal" text-anchor="middle" dominant-baseline="central" textLength="32.70" lengthAdjust="spacingAndGlyphs">266</text>
<text x="865.93" y="356.76" font-size="19.49" font-weight="normal" text-anchor="middle" dominant-baseline="central" textLength="67.05" lengthAdjust="spacingAndGlyphs">04P120</text>
<text x="923.12" y="356.76" font-size="19.49" font-weight="normal" text-anchor="middle" dominant-baseline="central" textLength="32.98" lengthAdjust="spacingAndGlyphs">288</text>
<text x="963.45" y="356.76" font-size="19.49" font-weight="normal" text-anchor="middle" dominant-baseline="central" textLength="32.70" lengthAdjust="spacingAndGlyphs">319</text>
</svg>
</body></html>
